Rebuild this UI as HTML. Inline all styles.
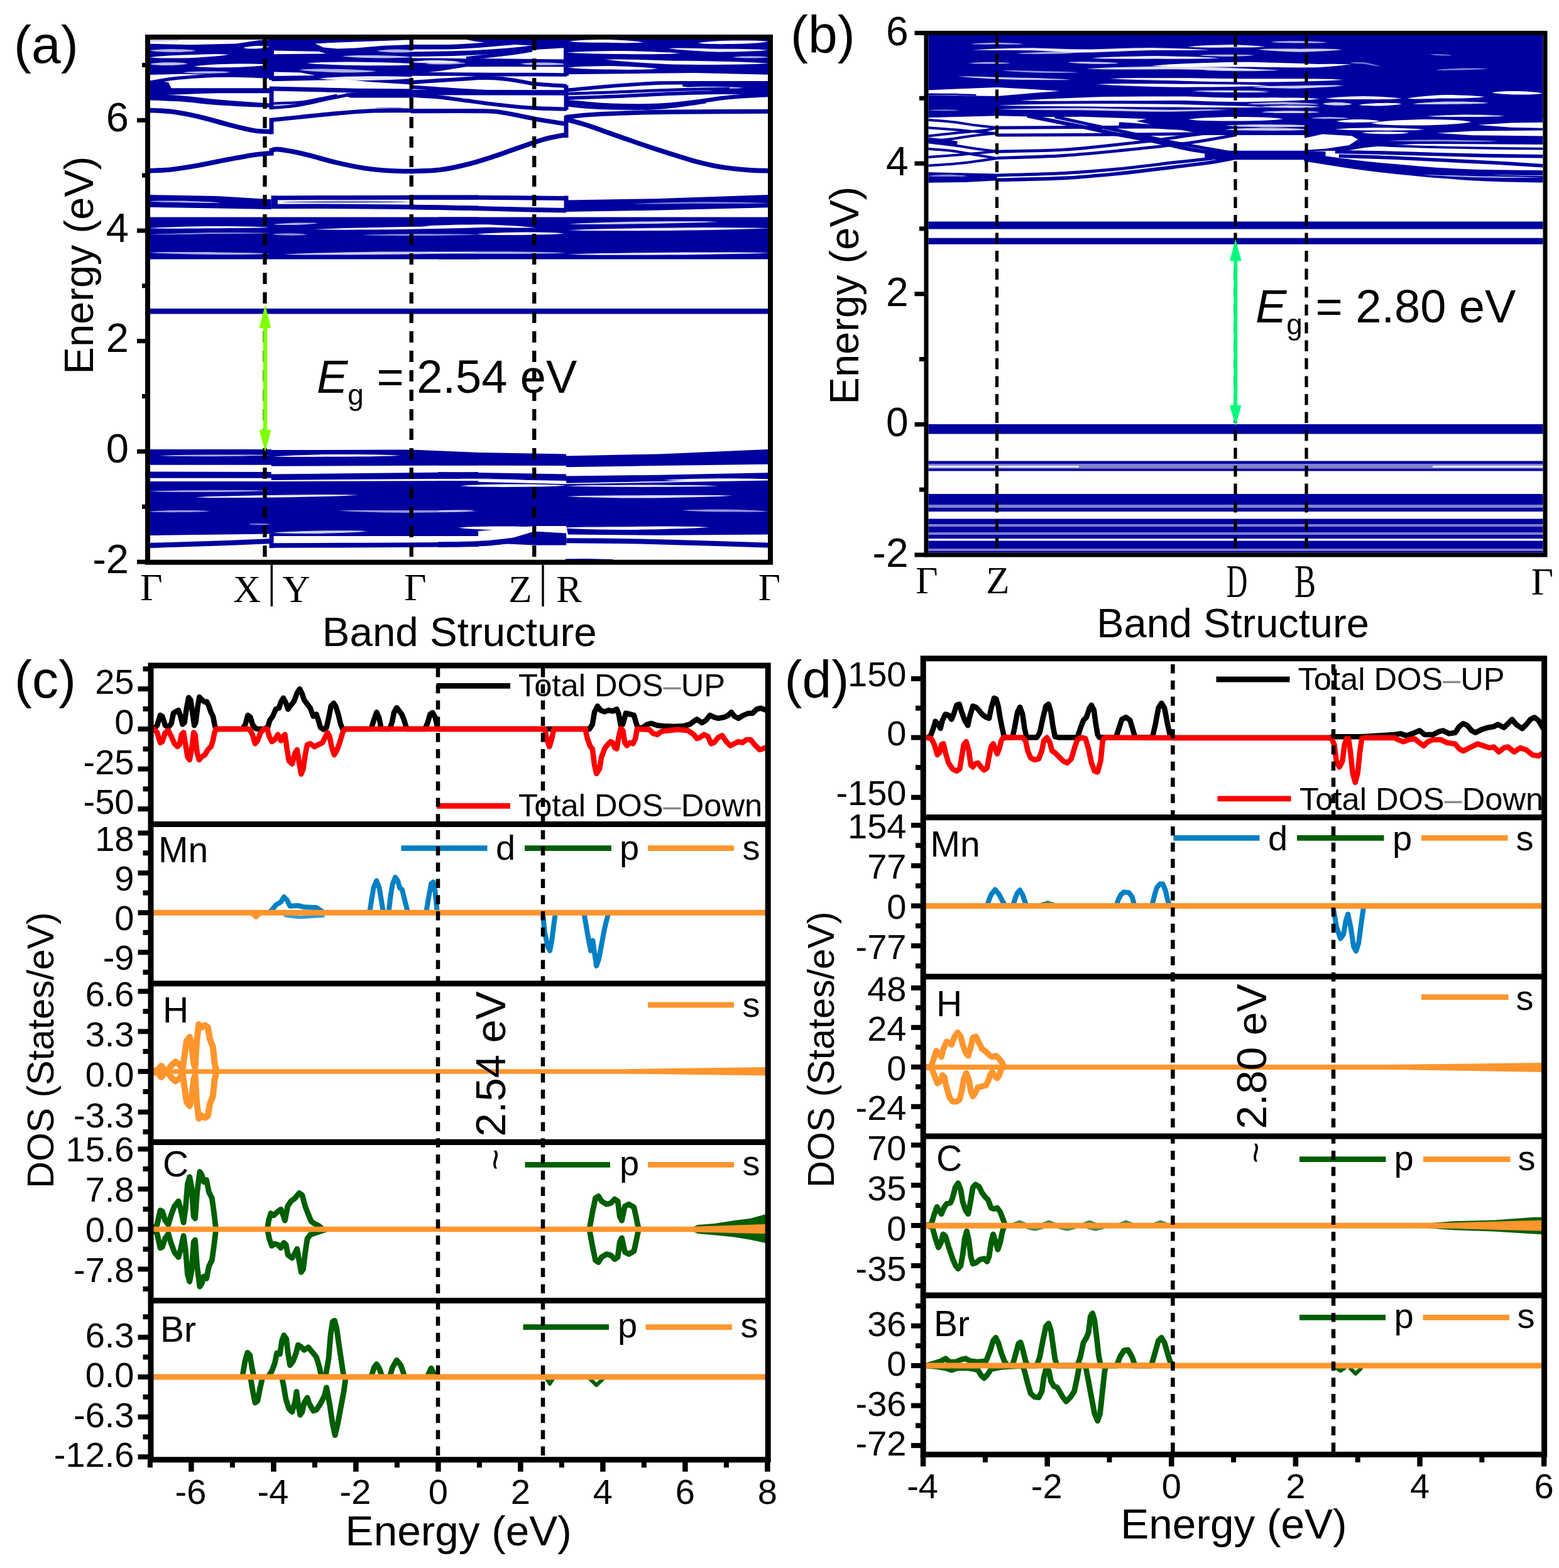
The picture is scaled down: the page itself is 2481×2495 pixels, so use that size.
<!DOCTYPE html>
<html lang="en"><head><meta charset="utf-8"><title>Band structure and DOS</title>
<style>html,body{margin:0;padding:0;background:#fff}svg{display:block;filter:blur(0.55px)}text{white-space:pre}</style>
</head><body>
<svg width="2481" height="2495" viewBox="0 0 2481 2495">
<rect x="0" y="0" width="2481" height="2495" fill="#fff"/>
<clipPath id="ca"><rect x="239" y="63" width="983" height="828"/></clipPath>
<g clip-path="url(#ca)">
<path d="M238 69.6 L302.9 71.3 L375.8 69.6 L412.2 64 L432.6 63 L432.6 123.5 L375.8 120.3 L324.7 118.4 L288.3 117.7 L238 119.1Z" fill="#00009f" />
<path d="M238 63 L238 65.9 L283.9 65.5 L283.9 63Z" fill="#c8c8ea" />
<path d="M238.0 80.5 L244.2 79.4 L250.3 78.9 L256.4 78.5 L262.6 78.3 L268.7 78.1 L274.8 78.1 L281.0 78.2 L287.1 78.3 L293.2 78.6 L299.4 79.0 L305.5 79.5 L311.6 80.7 L311.6 80.7 L305.5 81.7 L299.4 82.3 L293.2 82.6 L287.1 82.9 L281.0 83.0 L274.8 83.1 L268.7 83.0 L262.6 82.8 L256.4 82.6 L250.3 82.2 L244.2 81.6 L238.0 80.5Z" fill="#fff" opacity="0.69"/>
<path d="M238.0 91.4 L248.5 90.1 L259.0 89.2 L269.5 88.6 L280.0 88.0 L290.6 87.6 L301.1 87.3 L311.6 86.9 L322.1 86.5 L332.6 86.3 L343.1 86.1 L353.6 86.2 L364.1 86.8 L364.1 86.8 L353.6 88.4 L343.1 89.4 L332.6 90.3 L322.1 91.0 L311.6 91.7 L301.1 92.2 L290.6 92.4 L280.0 92.6 L269.5 92.6 L259.0 92.5 L248.5 92.3 L238.0 91.4Z" fill="#fff" opacity="0.9774999999999999"/>
<path d="M238.0 101.9 L243.1 100.8 L248.1 100.2 L253.1 99.8 L258.2 99.5 L263.2 99.3 L268.3 99.2 L273.3 99.2 L278.3 99.3 L283.4 99.5 L288.4 99.8 L293.5 100.3 L298.5 101.4 L298.5 101.4 L293.5 102.5 L288.4 103.1 L283.4 103.5 L278.3 103.8 L273.3 104.0 L268.3 104.1 L263.2 104.1 L258.2 104.0 L253.1 103.8 L248.1 103.5 L243.1 103.0 L238.0 101.9Z" fill="#fff" opacity="0.7474999999999999"/>
<path d="M308.7 105.7 L318.5 104.3 L328.4 103.5 L338.2 102.8 L348.1 102.3 L357.9 102.0 L367.7 101.7 L377.6 101.5 L387.4 101.5 L397.3 101.5 L407.1 101.7 L416.9 102.1 L426.8 103.1 L426.8 103.1 L416.9 104.5 L407.1 105.4 L397.3 106.0 L387.4 106.5 L377.6 106.9 L367.7 107.2 L357.9 107.3 L348.1 107.4 L338.2 107.3 L328.4 107.1 L318.5 106.7 L308.7 105.7Z" fill="#fff" opacity="1.0"/>
<path d="M291.2 115.5 L297.5 114.6 L303.9 114.1 L310.2 113.7 L316.5 113.5 L322.8 113.3 L329.1 113.2 L335.4 113.2 L341.7 113.2 L348.1 113.4 L354.4 113.6 L360.7 114.0 L367.0 114.8 L367.0 114.8 L360.7 115.7 L354.4 116.2 L348.1 116.5 L341.7 116.8 L335.4 117.0 L329.1 117.1 L322.8 117.1 L316.5 117.0 L310.2 116.9 L303.9 116.6 L297.5 116.3 L291.2 115.5Z" fill="#fff" opacity="0.69"/>
<path d="M387.4 76.1 L390.8 75.0 L394.2 74.4 L397.6 73.9 L401.0 73.5 L404.4 73.2 L407.8 73.0 L411.2 72.9 L414.6 72.9 L418.0 72.9 L421.4 73.1 L424.8 73.4 L428.2 74.2 L428.2 74.2 L424.8 75.4 L421.4 76.0 L418.0 76.5 L414.6 76.9 L411.2 77.2 L407.8 77.4 L404.4 77.5 L401.0 77.5 L397.6 77.4 L394.2 77.3 L390.8 77.0 L387.4 76.1Z" fill="#fff" opacity="1.0"/>
<path d="M238.0 131.1 C244.0 130.1 260.5 126.8 273.7 125.3 C287.0 123.7 301.7 122.5 317.5 121.6 C333.2 120.8 349.3 120.0 368.5 120.2 C387.7 120.3 421.9 122.0 432.6 122.3" fill="none" stroke="#00009f" stroke-width="5.2" />
<path d="M238 127.9 L267.9 130.8 L273.7 142.5 L238 142.5Z" fill="#00009f" />
<path d="M238.0 144.2 C253.7 144.2 299.6 144.2 332.0 144.2 C364.5 144.2 415.8 144.2 432.6 144.2" fill="none" stroke="#00009f" stroke-width="8.1" />
<path d="M238.0 149.7 C246.4 149.5 270.2 148.9 288.3 148.3 C306.4 147.7 336.9 146.5 346.6 146.1" fill="none" stroke="#00009f" stroke-width="3.8" />
<path d="M238.0 153.4 C246.4 153.8 272.6 154.4 288.3 155.6 C304.0 156.7 317.5 158.8 332.0 160.2 C346.6 161.6 359.0 162.7 375.8 164.0 C392.5 165.3 423.1 167.3 432.6 168.0" fill="none" stroke="#00009f" stroke-width="6.6" />
<path d="M238.0 157.0 C246.4 157.4 272.6 158.1 288.3 159.2 C304.0 160.3 317.5 162.4 332.0 163.6 C346.6 164.8 359.0 165.7 375.8 166.5 C392.5 167.4 423.1 168.3 432.6 168.7" fill="none" stroke="#00009f" stroke-width="4.8" />
<path d="M236.4 175.5 C242.5 175.9 259.5 175.9 272.9 177.6 C286.2 179.3 302.0 182.4 316.6 185.8 C331.2 189.1 348.2 194.3 360.3 197.4 C372.5 200.6 381.2 202.9 389.5 204.7 C397.7 206.5 402.6 207.7 409.9 208.5 C417.2 209.3 429.3 209.5 433.2 209.7" fill="none" stroke="#00009f" stroke-width="7.6" />
<path d="M236.4 271.7 C242.5 271.4 259.5 271.2 272.9 269.7 C286.2 268.2 302.0 265.6 316.6 263.0 C331.2 260.4 345.8 257.0 360.3 254.3 C374.9 251.5 391.9 248.2 404.0 246.4 C416.2 244.6 428.3 244.0 433.2 243.5" fill="none" stroke="#00009f" stroke-width="7.6" />
<line x1="432" y1="191.6" x2="432" y2="213.4" stroke="#00009f" stroke-width="7" />
<line x1="432" y1="235.9" x2="432" y2="247.5" stroke="#00009f" stroke-width="7" />
<line x1="432" y1="63" x2="432" y2="127.4" stroke="#00009f" stroke-width="8" />
<line x1="432" y1="142" x2="432" y2="174.1" stroke="#00009f" stroke-width="7" />
<path d="M432.4 63 L655.4 63 L655.4 134.4 L594.9 130.8 L551.2 126.7 L492.9 127.9 L432.4 129.3Z" fill="#00009f" />
<path d="M501.6 69.6 L536.6 67 L565.8 65.2 L609.5 64 L655.4 63.5 L655.4 71 L609.5 72.8 L565.8 76.4 L536.6 77.6 L514.7 75.4Z" fill="#fff" />
<path d="M501.6 63 L565.8 63 L638.6 63 L638.6 64 L565.8 66.4 L501.6 69Z" fill="#00009f" />
<path d="M436 80.5 L436 86.3 L519.1 85.3 L507.5 82Z" fill="#fff" />
<path d="M543.9 89.5 L553.2 88.7 L562.5 88.3 L571.8 88.1 L581.1 88.0 L590.4 87.9 L599.6 88.0 L608.9 88.2 L618.2 88.4 L627.5 88.7 L636.8 89.2 L646.1 89.8 L655.4 90.9 L655.4 90.9 L646.1 91.7 L636.8 92.1 L627.5 92.3 L618.2 92.4 L608.9 92.5 L599.6 92.4 L590.4 92.2 L581.1 92.0 L571.8 91.7 L562.5 91.2 L553.2 90.6 L543.9 89.5Z" fill="#fff" opacity="0.7474999999999999"/>
<path d="M599.3 80.9 L605.0 79.9 L610.7 79.4 L616.4 79.0 L622.1 78.8 L627.8 78.6 L633.5 78.6 L639.2 78.7 L645.0 78.9 L650.7 79.2 L656.4 79.6 L662.1 80.1 L667.8 81.2 L667.8 81.2 L662.1 82.3 L656.4 82.8 L650.7 83.2 L645.0 83.4 L639.2 83.5 L633.5 83.6 L627.8 83.5 L622.1 83.3 L616.4 83.0 L610.7 82.6 L605.0 82.1 L599.3 80.9Z" fill="#fff" opacity="0.69"/>
<path d="M488.5 100.5 L503.4 99.4 L518.4 99.0 L533.3 98.8 L548.3 98.6 L563.2 98.6 L578.1 98.7 L593.1 98.9 L608.0 99.3 L623.0 99.7 L637.9 100.3 L652.9 101.0 L667.8 102.4 L667.8 102.4 L652.9 103.4 L637.9 103.9 L623.0 104.2 L608.0 104.3 L593.1 104.3 L578.1 104.2 L563.2 104.0 L548.3 103.7 L533.3 103.2 L518.4 102.6 L503.4 101.9 L488.5 100.5Z" fill="#fff" opacity="0.9774999999999999"/>
<path d="M475.4 111.1 L485.7 110.1 L496.0 109.8 L506.4 109.6 L516.7 109.6 L527.0 109.7 L537.3 109.8 L547.7 110.1 L558.0 110.4 L568.3 110.9 L578.6 111.4 L589.0 112.2 L599.3 113.6 L599.3 113.6 L589.0 114.6 L578.6 115.1 L568.3 115.3 L558.0 115.4 L547.7 115.4 L537.3 115.3 L527.0 115.0 L516.7 114.6 L506.4 114.1 L496.0 113.4 L485.7 112.6 L475.4 111.1Z" fill="#fff" opacity="0.69"/>
<path d="M436 114.5 L436 120.9 L501.6 119.9 L478.3 115.5Z" fill="#fff" />
<path d="M507.5 125.0 L520.8 123.4 L534.2 122.7 L547.5 122.1 L560.9 121.7 L574.3 121.5 L587.6 121.3 L601.0 121.2 L614.3 121.2 L627.7 121.4 L641.1 121.7 L654.4 122.2 L667.8 123.5 L667.8 123.5 L654.4 125.2 L641.1 126.0 L627.7 126.7 L614.3 127.2 L601.0 127.6 L587.6 127.9 L574.3 127.9 L560.9 127.8 L547.5 127.5 L534.2 127.0 L520.8 126.4 L507.5 125.0Z" fill="#fff" opacity="0.9199999999999999"/>
<path d="M428.7 130.8 L428.7 138.4 L565.8 137.4 L536.6 133.7Z" fill="#fff" />
<path d="M428.7 141.0 C441.9 141.3 484.6 142.2 507.5 142.7 C530.3 143.3 541.1 143.8 565.8 144.2 C590.4 144.6 640.5 144.9 655.4 145.1" fill="none" stroke="#00009f" stroke-width="7.1" />
<path d="M551.2 148.3 L655.4 142.5 L655.4 155.6 L558.5 155.6 L543.9 151.9Z" fill="#00009f" />
<path d="M428.7 171.6 C434.6 171.2 453.0 170.3 463.7 169.0 C474.4 167.7 483.2 165.8 492.9 163.9 C502.6 161.9 512.3 159.4 522.0 157.3 C531.7 155.3 546.3 152.5 551.2 151.5" fill="none" stroke="#00009f" stroke-width="5.2" />
<path d="M433.1 164.6 C440.6 164.3 465.9 163.8 478.3 162.6 C490.7 161.4 497.7 159.2 507.5 157.3 C517.2 155.5 531.7 152.5 536.6 151.5" fill="none" stroke="#00009f" stroke-width="4.3" />
<path d="M594.9 171.6 L600.0 171.4 L605.0 171.4 L610.0 171.4 L615.1 171.4 L620.1 171.4 L625.2 171.5 L630.2 171.5 L635.2 171.6 L640.3 171.7 L645.3 171.9 L650.4 172.1 L655.4 172.3 L655.4 172.3 L650.4 172.5 L645.3 172.5 L640.3 172.6 L635.2 172.6 L630.2 172.5 L625.2 172.5 L620.1 172.4 L615.1 172.3 L610.0 172.2 L605.0 172.1 L600.0 171.9 L594.9 171.6Z" fill="#00009f" opacity="1"/>
<path d="M428.7 191.3 C437.0 190.4 460.3 188.0 478.3 186.2 C496.3 184.4 517.2 182.0 536.6 180.4 C556.0 178.7 575.1 177.0 594.9 176.3 C614.7 175.5 645.3 176.0 655.4 176.0" fill="none" stroke="#00009f" stroke-width="6.6" />
<path d="M432.6 238.8 C434.2 238.6 437.0 237.3 441.9 237.6 C446.9 237.9 454.1 239.0 462.3 240.6 C470.6 242.1 479.4 244.0 491.5 247.0 C503.6 250.0 520.6 255.2 535.2 258.6 C549.8 262.0 564.4 265.2 579.0 267.4 C593.5 269.6 609.8 270.9 622.7 271.7 C635.5 272.6 650.6 272.5 656.2 272.6" fill="none" stroke="#00009f" stroke-width="7.6" />
<path d="M742 63 L901.6 63 L901.6 72.2 L844.1 72.2 L785.8 69.6 L756.6 65.9Z" fill="#00009f" />
<path d="M653.8 74.7 C663.7 74.7 695.8 75.0 712.9 74.7 C730.0 74.3 742.0 73.5 756.6 72.5 C771.2 71.5 788.2 69.9 800.3 68.8 C812.5 67.8 824.6 66.4 829.5 65.9" fill="none" stroke="#00009f" stroke-width="7.6" />
<path d="M653.8 86.3 C666.1 86.1 705.5 85.6 727.5 84.9 C749.4 84.2 768.8 83.1 785.8 82.0 C802.8 80.9 817.3 79.5 829.5 78.3 C841.6 77.1 846.6 75.7 858.6 74.7 C870.7 73.7 894.5 72.6 901.6 72.2" fill="none" stroke="#00009f" stroke-width="7.6" />
<path d="M742.0 93.2 C751.7 92.0 782.8 88.6 800.3 86.3 C817.8 84.1 839.2 80.6 847.0 79.5" fill="none" stroke="#00009f" stroke-width="6.2" />
<path d="M653.8 92.5 L698.3 92.5 L742 93.2 L785.8 93.2 L849.9 94.1 L901.6 94.4 L901.6 106.3 L849.9 106.3 L785.8 106 L742 106.3 L698.3 113.3 L653.8 118Z" fill="#00009f" />
<path d="M653.8 98.7 L660.5 97.6 L667.1 97.1 L673.7 96.6 L680.3 96.3 L686.9 96.1 L693.6 96.0 L700.2 96.1 L706.8 96.3 L713.4 96.7 L720.0 97.1 L726.7 97.7 L733.3 98.7 L733.3 98.7 L726.7 99.6 L720.0 100.0 L713.4 100.2 L706.8 100.4 L700.2 100.4 L693.6 100.4 L686.9 100.4 L680.3 100.3 L673.7 100.2 L667.1 100.0 L660.5 99.6 L653.8 98.7Z" fill="#fff" opacity="0.9199999999999999"/>
<path d="M828.0 101.4 L834.2 100.4 L840.3 100.0 L846.4 99.7 L852.6 99.5 L858.7 99.4 L864.8 99.4 L871.0 99.5 L877.1 99.7 L883.2 100.0 L889.4 100.4 L895.5 100.9 L901.6 101.9 L901.6 101.9 L895.5 102.9 L889.4 103.3 L883.2 103.6 L877.1 103.8 L871.0 103.8 L864.8 103.8 L858.7 103.7 L852.6 103.6 L846.4 103.3 L840.3 102.9 L834.2 102.4 L828.0 101.4Z" fill="#fff" opacity="0.69"/>
<path d="M676.4 101.4 L681.9 100.5 L687.4 100.1 L692.8 99.8 L698.3 99.5 L703.8 99.4 L709.2 99.3 L714.7 99.2 L720.2 99.3 L725.6 99.4 L731.1 99.5 L736.6 99.8 L742.0 100.5 L742.0 100.5 L736.6 101.3 L731.1 101.7 L725.6 102.0 L720.2 102.3 L714.7 102.5 L709.2 102.6 L703.8 102.6 L698.3 102.6 L692.8 102.5 L687.4 102.3 L681.9 102.0 L676.4 101.4Z" fill="#fff" opacity="0.69"/>
<path d="M653.8 118.0 C666.1 118.0 705.5 117.9 727.5 118.0 C749.4 118.1 765.4 118.5 785.8 118.6 C806.2 118.6 830.6 118.5 849.9 118.6 C869.2 118.6 893.0 119.0 901.6 119.1" fill="none" stroke="#00009f" stroke-width="5.7" />
<path d="M653.8 131.1 C661.3 130.6 683.6 129.1 698.3 128.2 C713.0 127.2 729.9 126.0 742.0 125.3 C754.2 124.5 761.5 123.8 771.2 123.8 C780.9 123.8 790.6 124.3 800.3 125.3 C810.1 126.2 821.2 128.3 829.5 129.6 C837.7 131.0 837.9 132.1 849.9 133.3 C861.9 134.5 893.0 136.3 901.6 136.9" fill="none" stroke="#00009f" stroke-width="6.2" />
<path d="M653.8 138.4 C661.3 138.9 683.6 140.3 698.3 141.3 C713.0 142.3 727.5 143.4 742.0 144.2 C756.6 145.1 778.5 146.0 785.8 146.4" fill="none" stroke="#00009f" stroke-width="5.7" />
<path d="M653.8 147.1 L901.6 147.4" fill="none" stroke="#00009f" stroke-width="8.5" />
<path d="M653.8 151.5 C661.3 152.0 683.6 153.0 698.3 154.4 C713.0 155.9 725.0 158.1 742.0 160.2 C759.0 162.4 782.4 165.6 800.3 167.5 C818.3 169.5 833.0 170.9 849.9 171.9 C866.8 172.9 893.0 173.4 901.6 173.6" fill="none" stroke="#00009f" stroke-width="6.2" />
<path d="M653.8 176.7 C673.4 176.7 746.8 176.3 771.2 176.7 C795.6 177.1 790.6 177.9 800.3 179.2 C810.1 180.5 819.8 182.8 829.5 184.7 C839.2 186.6 848.9 188.8 858.6 190.6 C868.4 192.3 880.6 194.1 887.8 195.2 C895.0 196.3 899.3 196.8 901.6 197.1" fill="none" stroke="#00009f" stroke-width="7.1" />
<path d="M653.4 272.6 C661.1 272.2 684.9 272.1 700.0 270.3 C715.1 268.4 729.1 265.2 743.7 261.5 C758.3 257.9 775.3 252.3 787.5 248.4 C799.6 244.5 806.2 241.9 816.6 238.2 C827.0 234.6 840.4 229.7 850.1 226.6 C859.8 223.4 866.3 221.3 874.9 219.3 C883.5 217.2 897.2 215.1 901.7 214.3" fill="none" stroke="#00009f" stroke-width="7.6" />
<line x1="901" y1="63" x2="901" y2="120.6" stroke="#00009f" stroke-width="8" />
<line x1="901" y1="135.6" x2="901" y2="174.9" stroke="#00009f" stroke-width="7" />
<line x1="901" y1="184.3" x2="901" y2="219" stroke="#00009f" stroke-width="7" />
<path d="M899.7 62.5 L1222 62.5 L1222 118.7 L1104.9 115.9 L899.7 118.3Z" fill="#00009f" />
<path d="M905.3 65.9 L915.2 64.7 L925.1 64.0 L935.0 63.6 L945.0 63.2 L954.9 63.0 L964.8 62.8 L974.7 63.2 L984.6 63.7 L994.5 64.3 L1004.5 65.1 L1014.4 65.9 L1024.3 67.4 L1024.3 67.4 L1014.4 68.1 L1004.5 68.3 L994.5 68.4 L984.6 68.3 L974.7 68.1 L964.8 67.8 L954.9 67.8 L945.0 67.8 L935.0 67.6 L925.1 67.3 L915.2 66.9 L905.3 65.9Z" fill="#fff" opacity="0.9774999999999999"/>
<path d="M1110.5 68.5 L1119.9 67.1 L1129.2 66.3 L1138.6 65.6 L1148.0 65.1 L1157.4 64.8 L1166.7 64.5 L1176.1 64.4 L1185.5 64.4 L1194.8 64.5 L1204.2 64.8 L1213.6 65.2 L1222.9 66.2 L1222.9 66.2 L1213.6 67.6 L1204.2 68.4 L1194.8 69.0 L1185.5 69.4 L1176.1 69.8 L1166.7 70.0 L1157.4 70.1 L1148.0 70.2 L1138.6 70.1 L1129.2 69.9 L1119.9 69.5 L1110.5 68.5Z" fill="#fff" opacity="0.9774999999999999"/>
<path d="M902.5 83.5 L917.5 82.4 L932.5 81.9 L947.5 81.5 L962.5 81.2 L977.4 81.1 L992.4 81.0 L1007.4 81.3 L1022.4 81.7 L1037.4 82.2 L1052.4 82.9 L1067.4 83.6 L1082.4 85.0 L1082.4 85.0 L1067.4 85.8 L1052.4 86.1 L1037.4 86.2 L1022.4 86.3 L1007.4 86.2 L992.4 86.0 L977.4 85.9 L962.5 85.8 L947.5 85.5 L932.5 85.1 L917.5 84.6 L902.5 83.5Z" fill="#fff" opacity="0.9774999999999999"/>
<path d="M1063.7 77.1 L1076.9 76.6 L1090.2 76.6 L1103.5 76.7 L1116.7 77.0 L1130.0 77.4 L1143.3 77.8 L1156.6 77.8 L1169.8 77.8 L1183.1 78.0 L1196.4 78.3 L1209.7 78.7 L1222.9 79.7 L1222.9 79.7 L1209.7 80.9 L1196.4 81.6 L1183.1 82.0 L1169.8 82.4 L1156.6 82.6 L1143.3 82.8 L1130.0 82.2 L1116.7 81.5 L1103.5 80.7 L1090.2 79.8 L1076.9 78.8 L1063.7 77.1Z" fill="#fff" opacity="0.9199999999999999"/>
<path d="M962.5 94.7 L984.2 94.4 L1005.9 94.7 L1027.6 95.3 L1049.3 96.0 L1071.0 96.7 L1092.7 96.8 L1114.4 97.0 L1136.1 97.4 L1157.8 97.9 L1179.5 98.6 L1201.2 99.4 L1222.9 100.9 L1222.9 100.9 L1201.2 102.1 L1179.5 102.5 L1157.8 102.8 L1136.1 103.0 L1114.4 103.0 L1092.7 102.8 L1071.0 102.6 L1049.3 101.5 L1027.6 100.2 L1005.9 98.7 L984.2 97.1 L962.5 94.7Z" fill="#fff" opacity="0.9774999999999999"/>
<path d="M1166.7 91.0 L1171.4 90.2 L1176.1 89.9 L1180.8 89.6 L1185.5 89.5 L1190.1 89.4 L1194.8 89.3 L1199.5 89.4 L1204.2 89.5 L1208.9 89.6 L1213.6 89.9 L1218.3 90.2 L1222.9 91.0 L1222.9 91.0 L1218.3 91.7 L1213.6 92.1 L1208.9 92.3 L1204.2 92.5 L1199.5 92.6 L1194.8 92.6 L1190.1 92.6 L1185.5 92.5 L1180.8 92.3 L1176.1 92.1 L1171.4 91.7 L1166.7 91.0Z" fill="#fff" opacity="0.69"/>
<path d="M904.4 107.5 L916.2 106.3 L928.1 105.8 L940.0 105.4 L951.8 105.2 L963.7 105.1 L975.6 105.1 L987.4 105.4 L999.3 105.8 L1011.2 106.4 L1023.0 107.0 L1034.9 107.9 L1046.8 109.3 L1046.8 109.3 L1034.9 110.3 L1023.0 110.7 L1011.2 110.8 L999.3 110.9 L987.4 110.8 L975.6 110.6 L963.7 110.5 L951.8 110.3 L940.0 109.9 L928.1 109.4 L916.2 108.8 L904.4 107.5Z" fill="#fff" opacity="0.9774999999999999"/>
<path d="M903.4 143.5 C915.1 142.4 949.5 138.8 973.7 136.9 C997.9 135.0 1023.7 133.1 1048.7 132.2 C1073.6 131.4 1094.7 131.9 1123.6 131.8 C1152.5 131.8 1205.6 131.8 1222.0 131.8" fill="none" stroke="#00009f" stroke-width="5.7" />
<path d="M1086.1 130 L1222 130 L1222 153.4 L1161.1 148.7 L1086.1 137.5Z" fill="#00009f" />
<path d="M1067.4 140.3 L1077.1 139.4 L1086.8 138.9 L1096.4 138.4 L1106.1 138.1 L1115.8 137.8 L1125.5 137.7 L1135.2 137.8 L1144.9 137.9 L1154.5 138.2 L1164.2 138.5 L1173.9 138.9 L1183.6 139.7 L1183.6 139.7 L1173.9 140.4 L1164.2 140.7 L1154.5 140.9 L1144.9 141.0 L1135.2 141.0 L1125.5 141.0 L1115.8 141.1 L1106.1 141.1 L1096.4 141.1 L1086.8 141.0 L1077.1 140.8 L1067.4 140.3Z" fill="#fff" opacity="0.8049999999999999"/>
<path d="M1110.5 152.4 L1114.2 151.7 L1118.0 151.3 L1121.7 151.0 L1125.5 150.7 L1129.2 150.5 L1133.0 150.3 L1136.7 150.2 L1140.5 150.2 L1144.2 150.2 L1148.0 150.3 L1151.7 150.5 L1155.5 150.9 L1155.5 150.9 L1151.7 151.7 L1148.0 152.1 L1144.2 152.4 L1140.5 152.7 L1136.7 152.9 L1133.0 153.1 L1129.2 153.2 L1125.5 153.2 L1121.7 153.2 L1118.0 153.1 L1114.2 152.9 L1110.5 152.4Z" fill="#fff" opacity="0.8049999999999999"/>
<path d="M903.4 149.1 C915.1 148.7 946.4 147.8 973.7 146.8 C1001.0 145.8 1036.2 144.0 1067.4 143.1 C1098.6 142.1 1145.5 141.5 1161.1 141.2" fill="none" stroke="#00009f" stroke-width="4.8" />
<path d="M903.4 156.2 C918.3 155.6 965.1 154.0 992.4 152.8 C1019.8 151.6 1042.4 150.0 1067.4 149.1 C1092.4 148.1 1116.6 147.5 1142.4 147.2 C1168.1 146.9 1208.7 147.2 1222.0 147.2" fill="none" stroke="#00009f" stroke-width="5.7" />
<path d="M903.4 162.2 C915.1 163.1 949.5 166.9 973.7 167.8 C997.9 168.8 1026.8 168.8 1048.7 167.8 C1070.5 166.9 1086.1 164.4 1104.9 162.2 C1123.6 160.0 1141.6 156.6 1161.1 154.7 C1180.6 152.8 1211.9 151.6 1222.0 150.9" fill="none" stroke="#00009f" stroke-width="6.6" />
<path d="M903.4 167.4 C912.0 168.1 933.9 170.7 955.0 171.6 C976.0 172.4 1011.2 172.8 1029.9 172.5 C1048.7 172.2 1051.8 171.4 1067.4 169.7 C1083.0 168.0 1114.2 163.4 1123.6 162.2" fill="none" stroke="#00009f" stroke-width="4.8" />
<path d="M899.7 186.6 C905.8 185.9 920.8 183.9 936.2 182.8 C951.7 181.7 970.6 180.8 992.4 180.0 C1014.3 179.2 1029.1 178.6 1067.4 178.1 C1105.7 177.7 1196.2 177.3 1222.0 177.2" fill="none" stroke="#00009f" stroke-width="7.1" />
<path d="M901.7 190.1 C907.0 191.6 923.1 195.7 933.2 198.9 C943.3 202.0 952.6 205.7 962.3 209.1 C972.1 212.5 981.8 215.9 991.5 219.3 C1001.2 222.7 1010.9 226.2 1020.6 229.5 C1030.4 232.8 1040.1 235.9 1049.8 239.1 C1059.5 242.3 1069.2 245.4 1079.0 248.4 C1088.7 251.4 1098.4 254.6 1108.1 257.2 C1117.8 259.7 1127.5 262.0 1137.2 263.9 C1147.0 265.7 1156.7 267.1 1166.4 268.2 C1176.1 269.4 1186.1 270.3 1195.5 270.9 C1205.0 271.5 1218.6 271.6 1223.2 271.7" fill="none" stroke="#00009f" stroke-width="7.6" />
<path d="M236.4 310 L345.8 312.1 L431.7 317.3 L431.7 333.1 L345.8 331.6 L236.4 329.6Z" fill="#00009f" />
<path d="M236.4 320.2 L246.0 319.7 L255.6 319.5 L265.2 319.4 L274.8 319.4 L284.4 319.4 L294.0 319.6 L303.6 319.9 L313.2 320.3 L322.8 320.7 L332.4 321.1 L342.0 321.7 L351.6 322.6 L351.6 322.6 L342.0 322.9 L332.4 322.9 L322.8 322.9 L313.2 322.8 L303.6 322.6 L294.0 322.4 L284.4 322.1 L274.8 321.9 L265.2 321.7 L255.6 321.4 L246.0 320.9 L236.4 320.2Z" fill="#fff" opacity="0.69"/>
<path d="M431.7 315.0 C451.4 314.9 494.9 314.5 549.8 314.4 C604.7 314.3 725.9 314.2 761.1 314.1" fill="none" stroke="#00009f" stroke-width="7" />
<path d="M653.4 314.1 C675.7 314.2 746.2 314.2 787.5 314.4 C828.7 314.6 882.2 315.4 901.1 315.6" fill="none" stroke="#00009f" stroke-width="7" />
<path d="M431.7 328.4 C451.4 328.4 512.6 328.2 549.8 328.4 C587.0 328.6 619.5 329.1 654.7 329.6 C690.0 330.0 743.4 331.0 761.1 331.3" fill="none" stroke="#00009f" stroke-width="7.5" />
<path d="M653.4 329.6 C666.0 329.7 701.9 330.1 729.1 330.7 C756.4 331.3 787.9 332.4 816.6 333.1 C845.3 333.7 887.0 334.5 901.1 334.8" fill="none" stroke="#00009f" stroke-width="7.5" />
<path d="M431.7 311.5 L441.9 311.5 L441.9 331.9 L431.7 331.9Z" fill="#00009f" />
<path d="M444.9 321.7 L462.4 320.8 L479.8 320.3 L497.3 320.0 L514.8 319.7 L532.3 319.5 L549.8 319.4 L567.3 319.4 L584.8 319.6 L602.3 319.8 L619.8 320.1 L637.2 320.6 L654.7 321.4 L654.7 321.4 L637.2 322.1 L619.8 322.5 L602.3 322.7 L584.8 322.8 L567.3 322.9 L549.8 322.9 L532.3 322.9 L514.8 322.9 L497.3 322.8 L479.8 322.6 L462.4 322.4 L444.9 321.7Z" fill="#00009f" opacity="0.55"/>
<line x1="901" y1="311.5" x2="901" y2="337.1" stroke="#00009f" stroke-width="7" />
<path d="M901.1 318.5 L1049.8 316.1 L1223.2 310 L1223.2 330.1 L1049.8 334.5 L901.1 337.1Z" fill="#00009f" />
<path d="M1006.1 324.3 L1024.2 323.4 L1042.3 322.8 L1060.4 322.3 L1078.5 321.8 L1096.6 321.4 L1114.7 321.2 L1132.8 321.3 L1150.9 321.5 L1169.0 321.8 L1187.0 322.1 L1205.1 322.4 L1223.2 323.1 L1223.2 323.1 L1205.1 323.7 L1187.0 323.9 L1169.0 324.0 L1150.9 324.0 L1132.8 324.0 L1114.7 324.0 L1096.6 324.1 L1078.5 324.3 L1060.4 324.5 L1042.3 324.6 L1024.2 324.6 L1006.1 324.3Z" fill="#fff" opacity="0.5175"/>
<path d="M236.4 345.6 L761.1 345.6 L761.1 412.6 L236.4 412.6Z" fill="#00009f" />
<path d="M697.1 345.6 L1223.2 345.6 L1223.2 412.6 L697.1 412.6Z" fill="#00009f" />
<path d="M236.4 363.1 L252.5 362.1 L268.5 361.5 L284.5 361.0 L300.6 360.6 L316.6 360.2 L332.6 360.0 L348.7 360.0 L364.7 360.1 L380.7 360.3 L396.8 360.5 L412.8 360.9 L428.8 361.6 L428.8 361.6 L412.8 362.4 L396.8 362.7 L380.7 363.0 L364.7 363.1 L348.7 363.2 L332.6 363.3 L316.6 363.5 L300.6 363.6 L284.5 363.7 L268.5 363.7 L252.5 363.6 L236.4 363.1Z" fill="#fff" opacity="0.9774999999999999"/>
<path d="M236.4 373.3 L252.6 372.4 L268.7 371.9 L284.9 371.4 L301.1 370.9 L317.2 370.5 L333.4 370.1 L349.5 369.9 L365.7 369.9 L381.8 370.1 L398.0 370.2 L414.1 370.5 L430.3 370.9 L430.3 370.9 L414.1 371.4 L398.0 371.7 L381.8 371.8 L365.7 372.0 L349.5 372.0 L333.4 372.3 L317.2 372.6 L301.1 372.9 L284.9 373.1 L268.7 373.3 L252.6 373.4 L236.4 373.3Z" fill="#fff" opacity="0.575"/>
<path d="M236.4 401.8 L252.6 401.2 L268.7 401.0 L284.9 400.9 L301.1 400.9 L317.2 401.0 L333.4 401.1 L349.5 401.4 L365.7 401.7 L381.8 402.0 L398.0 402.3 L414.1 402.7 L430.3 403.6 L430.3 403.6 L414.1 404.5 L398.0 404.9 L381.8 405.2 L365.7 405.2 L349.5 405.2 L333.4 405.0 L317.2 404.8 L301.1 404.4 L284.9 404.0 L268.7 403.5 L252.6 402.9 L236.4 401.8Z" fill="#fff" opacity="0.69"/>
<path d="M434.7 357.2 L440.6 356.3 L446.6 355.8 L452.5 355.4 L458.5 355.1 L464.4 354.8 L470.4 354.6 L476.3 354.4 L482.3 354.4 L488.2 354.4 L494.2 354.5 L500.1 354.6 L506.1 355.2 L506.1 355.2 L500.1 356.1 L494.2 356.6 L488.2 357.1 L482.3 357.4 L476.3 357.7 L470.4 357.9 L464.4 358.0 L458.5 358.1 L452.5 358.1 L446.6 358.0 L440.6 357.8 L434.7 357.2Z" fill="#fff" opacity="0.69"/>
<path d="M433.2 372.7 L437.8 372.0 L442.4 371.7 L447.0 371.5 L451.7 371.4 L456.3 371.3 L460.9 371.3 L465.5 371.4 L470.1 371.6 L474.7 371.8 L479.4 372.1 L484.0 372.5 L488.6 373.3 L488.6 373.3 L484.0 374.0 L479.4 374.3 L474.7 374.5 L470.1 374.6 L465.5 374.7 L460.9 374.6 L456.3 374.6 L451.7 374.4 L447.0 374.2 L442.4 373.9 L437.8 373.5 L433.2 372.7Z" fill="#fff" opacity="0.575"/>
<path d="M500.2 365.1 L523.8 363.9 L547.4 363.1 L570.9 362.5 L594.5 361.9 L618.1 361.5 L641.6 361.1 L665.2 360.8 L688.7 360.6 L712.3 360.5 L735.9 360.4 L759.4 360.5 L783.0 361.0 L783.0 361.0 L759.4 362.2 L735.9 363.0 L712.3 363.6 L688.7 364.1 L665.2 364.6 L641.6 364.9 L618.1 365.2 L594.5 365.5 L570.9 365.6 L547.4 365.7 L523.8 365.6 L500.2 365.1Z" fill="#fff" opacity="0.9774999999999999"/>
<path d="M576.0 373.9 L591.5 373.2 L606.9 372.9 L622.3 372.6 L637.7 372.4 L653.2 372.3 L668.6 372.2 L684.0 372.2 L699.4 372.2 L714.9 372.3 L730.3 372.5 L745.7 372.7 L761.1 373.3 L761.1 373.3 L745.7 373.9 L730.3 374.3 L714.9 374.5 L699.4 374.7 L684.0 374.9 L668.6 374.9 L653.2 375.0 L637.7 374.9 L622.3 374.8 L606.9 374.7 L591.5 374.4 L576.0 373.9Z" fill="#fff" opacity="0.575"/>
<path d="M450.7 404.8 L476.6 403.4 L502.4 402.6 L528.3 401.9 L554.2 401.3 L580.0 400.9 L605.9 400.6 L631.8 400.5 L657.7 400.5 L683.5 400.6 L709.4 400.7 L735.3 401.0 L761.1 401.8 L761.1 401.8 L735.3 403.0 L709.4 403.6 L683.5 404.1 L657.7 404.5 L631.8 404.8 L605.9 405.0 L580.0 405.2 L554.2 405.4 L528.3 405.5 L502.4 405.5 L476.6 405.4 L450.7 404.8Z" fill="#fff" opacity="0.8049999999999999"/>
<path d="M670.9 360.2 L685.9 359.1 L701.0 358.5 L716.0 358.0 L731.1 357.6 L746.2 357.4 L761.2 357.2 L776.3 357.3 L791.3 358.0 L806.4 358.7 L821.5 359.6 L836.5 360.7 L851.6 362.2 L851.6 362.2 L836.5 362.6 L821.5 362.5 L806.4 362.3 L791.3 362.0 L776.3 361.6 L761.2 361.6 L746.2 361.7 L731.1 361.7 L716.0 361.6 L701.0 361.4 L685.9 361.0 L670.9 360.2Z" fill="#fff" opacity="1.0"/>
<path d="M758.3 372.7 L770.0 371.6 L781.6 370.9 L793.3 370.4 L804.9 370.1 L816.6 369.8 L828.3 369.6 L839.9 369.5 L851.6 369.5 L863.2 369.7 L874.9 370.1 L886.6 370.6 L898.2 371.5 L898.2 371.5 L886.6 372.5 L874.9 373.0 L863.2 373.3 L851.6 373.5 L839.9 373.8 L828.3 374.0 L816.6 374.1 L804.9 374.1 L793.3 374.0 L781.6 373.8 L770.0 373.5 L758.3 372.7Z" fill="#fff" opacity="1.0"/>
<path d="M670.9 401.8 L690.0 401.0 L709.2 400.7 L728.4 400.4 L747.6 400.3 L766.8 400.2 L786.0 400.2 L805.2 400.3 L824.4 400.5 L843.6 400.7 L862.8 401.1 L881.9 401.5 L901.1 402.4 L901.1 402.4 L881.9 403.2 L862.8 403.6 L843.6 403.8 L824.4 404.0 L805.2 404.1 L786.0 404.1 L766.8 404.0 L747.6 403.8 L728.4 403.6 L709.2 403.2 L690.0 402.8 L670.9 401.8Z" fill="#fff" opacity="0.69"/>
<path d="M904.0 356.4 L924.0 355.2 L943.9 354.4 L963.8 353.8 L983.7 353.2 L1003.6 352.7 L1023.6 352.4 L1043.5 352.2 L1063.4 352.1 L1083.3 352.0 L1103.2 352.1 L1123.2 352.3 L1143.1 352.9 L1143.1 352.9 L1123.2 354.0 L1103.2 354.6 L1083.3 355.1 L1063.4 355.6 L1043.5 355.9 L1023.6 356.2 L1003.6 356.5 L983.7 356.7 L963.8 356.9 L943.9 356.9 L924.0 356.9 L904.0 356.4Z" fill="#fff" opacity="0.8049999999999999"/>
<path d="M904.0 366.3 L930.6 365.0 L957.2 364.3 L983.8 363.7 L1010.4 363.2 L1037.0 362.8 L1063.6 362.5 L1090.2 362.3 L1116.8 362.1 L1143.4 362.1 L1170.0 362.2 L1196.6 362.4 L1223.2 363.1 L1223.2 363.1 L1196.6 364.3 L1170.0 365.1 L1143.4 365.7 L1116.8 366.2 L1090.2 366.6 L1063.6 366.9 L1037.0 367.1 L1010.4 367.2 L983.8 367.3 L957.2 367.2 L930.6 367.0 L904.0 366.3Z" fill="#fff" opacity="0.9199999999999999"/>
<path d="M904.0 404.8 L930.6 403.7 L957.2 403.1 L983.8 402.7 L1010.4 402.3 L1037.0 402.0 L1063.6 401.8 L1090.2 401.6 L1116.8 401.5 L1143.4 401.5 L1170.0 401.6 L1196.6 401.8 L1223.2 402.4 L1223.2 402.4 L1196.6 403.5 L1170.0 404.1 L1143.4 404.6 L1116.8 405.1 L1090.2 405.4 L1063.6 405.6 L1037.0 405.8 L1010.4 405.8 L983.8 405.8 L957.2 405.7 L930.6 405.4 L904.0 404.8Z" fill="#fff" opacity="0.9199999999999999"/>
<line x1="239" y1="495.2" x2="1222" y2="495.2" stroke="#00009f" stroke-width="8.5" />
<path d="M236.4 714.9 L431.7 714.9 L431.7 716.1 L654.7 715.5 L761.1 720.1 L761.1 740.6 L431.7 741.7 L431.7 739.7 L236.4 739.7Z" fill="#00009f" />
<path d="M697.1 719 L901.1 722.5 L901.1 725.4 L1049.8 722.5 L1223.2 714.9 L1223.2 738.8 L1049.8 741.1 L901.1 743.2 L901.1 741.1 L697.1 740.6Z" fill="#00009f" />
<path d="M252.5 725.1 L267.3 724.4 L282.1 724.1 L296.9 723.8 L311.7 723.7 L326.6 723.5 L341.4 723.4 L356.2 723.4 L371.0 723.4 L385.8 723.4 L400.6 723.5 L415.5 723.7 L430.3 724.2 L430.3 724.2 L415.5 724.9 L400.6 725.3 L385.8 725.7 L371.0 725.9 L356.2 726.1 L341.4 726.2 L326.6 726.2 L311.7 726.2 L296.9 726.1 L282.1 725.9 L267.3 725.7 L252.5 725.1Z" fill="#fff" opacity="0.69"/>
<path d="M434.7 726.6 L451.5 725.4 L468.4 724.6 L485.3 724.0 L502.2 723.4 L519.1 723.0 L536.0 722.9 L552.8 722.9 L569.7 723.0 L586.6 723.2 L603.5 723.5 L620.4 724.0 L637.2 724.8 L637.2 724.8 L620.4 725.7 L603.5 726.1 L586.6 726.4 L569.7 726.6 L552.8 726.7 L536.0 726.7 L519.1 726.7 L502.2 727.0 L485.3 727.1 L468.4 727.1 L451.5 727.1 L434.7 726.6Z" fill="#fff" opacity="0.9199999999999999"/>
<path d="M236.4 750.5 L431.7 751 L431.7 754.5 L761.1 751 L761.1 761.5 L431.7 763.9 L431.7 760.7 L236.4 760.7Z" fill="#00009f" />
<path d="M697.1 751 L901.1 754.5 L901.1 757.5 L1049.8 755.7 L1223.2 752.2 L1223.2 762.1 L1049.8 765.9 L901.1 768.8 L901.1 765 L697.1 761.5Z" fill="#00009f" />
<path d="M236.4 765.9 L431.7 765.9 L761.1 765 L761.1 852.9 L433.2 852.9 L431.7 849.4 L236.4 852Z" fill="#00009f" />
<path d="M697.1 765 L901.1 770.3 L1223.2 764.5 L1223.2 850.5 L1049.8 851.7 L904 850.5 L901.1 837.1 L850.1 837.1 L700 850.5 L697.1 850.5Z" fill="#00009f" />
<path d="M691.3 763.3 L703.4 762.6 L715.5 762.2 L727.7 761.9 L739.8 761.6 L752.0 761.4 L764.1 761.4 L776.3 761.6 L788.4 761.9 L800.6 762.2 L812.7 762.6 L824.9 763.1 L837.0 763.9 L837.0 763.9 L824.9 764.3 L812.7 764.4 L800.6 764.4 L788.4 764.4 L776.3 764.3 L764.1 764.2 L752.0 764.1 L739.8 764.1 L727.7 764.1 L715.5 764.0 L703.4 763.8 L691.3 763.3Z" fill="#fff" opacity="0.69"/>
<path d="M732.1 773.2 L746.2 772.1 L760.2 771.6 L774.3 771.1 L788.4 770.8 L802.5 770.6 L816.6 770.4 L830.7 770.5 L844.8 770.6 L858.9 770.8 L873.0 771.2 L887.0 771.6 L901.1 772.6 L901.1 772.6 L887.0 773.6 L873.0 774.1 L858.9 774.4 L844.8 774.6 L830.7 774.8 L816.6 774.8 L802.5 774.9 L788.4 774.8 L774.3 774.7 L760.2 774.5 L746.2 774.1 L732.1 773.2Z" fill="#fff" opacity="1.0"/>
<path d="M901.1 773.2 L921.3 772.5 L941.5 772.1 L961.6 771.9 L981.8 771.7 L1001.9 771.6 L1022.1 771.6 L1042.3 771.6 L1062.4 771.7 L1082.6 771.9 L1102.8 772.1 L1122.9 772.5 L1143.1 773.2 L1143.1 773.2 L1122.9 773.9 L1102.8 774.3 L1082.6 774.5 L1062.4 774.7 L1042.3 774.8 L1022.1 774.9 L1001.9 774.8 L981.8 774.7 L961.6 774.5 L941.5 774.3 L921.3 773.9 L901.1 773.2Z" fill="#fff" opacity="0.9199999999999999"/>
<path d="M1055.6 763.9 L1069.6 762.9 L1083.6 762.4 L1097.5 762.0 L1111.5 761.7 L1125.5 761.5 L1139.4 761.3 L1153.4 761.3 L1167.4 761.3 L1181.3 761.4 L1195.3 761.6 L1209.3 761.9 L1223.2 762.7 L1223.2 762.7 L1209.3 763.7 L1195.3 764.2 L1181.3 764.6 L1167.4 764.9 L1153.4 765.1 L1139.4 765.2 L1125.5 765.3 L1111.5 765.2 L1097.5 765.1 L1083.6 764.9 L1069.6 764.6 L1055.6 763.9Z" fill="#fff" opacity="0.9199999999999999"/>
<path d="M236.4 781.9 L252.6 781.1 L268.7 780.7 L284.9 780.3 L301.1 780.1 L317.2 779.9 L333.4 779.8 L349.5 779.7 L365.7 779.7 L381.8 779.8 L398.0 779.9 L414.1 780.2 L430.3 780.8 L430.3 780.8 L414.1 781.6 L398.0 782.1 L381.8 782.5 L365.7 782.7 L349.5 783.0 L333.4 783.1 L317.2 783.1 L301.1 783.1 L284.9 783.0 L268.7 782.9 L252.6 782.6 L236.4 781.9Z" fill="#fff" opacity="0.6325"/>
<path d="M310.8 791.3 L332.4 790.1 L354.0 789.5 L375.6 788.9 L397.2 788.4 L418.9 788.0 L440.5 787.7 L462.1 787.4 L483.7 787.2 L505.3 787.1 L527.0 787.1 L548.6 787.2 L570.2 787.8 L570.2 787.8 L548.6 788.9 L527.0 789.7 L505.3 790.2 L483.7 790.8 L462.1 791.2 L440.5 791.5 L418.9 791.8 L397.2 792.0 L375.6 792.0 L354.0 792.0 L332.4 791.9 L310.8 791.3Z" fill="#fff" opacity="0.9199999999999999"/>
<path d="M236.4 814.0 L244.6 813.2 L252.7 812.7 L260.9 812.4 L269.0 812.1 L277.1 811.9 L285.3 811.8 L293.4 811.8 L301.5 811.9 L309.7 812.1 L317.8 812.3 L326.0 812.7 L334.1 813.4 L334.1 813.4 L326.0 814.2 L317.8 814.5 L309.7 814.8 L301.5 814.9 L293.4 815.0 L285.3 815.1 L277.1 815.2 L269.0 815.2 L260.9 815.1 L252.7 814.9 L244.6 814.7 L236.4 814.0Z" fill="#fff" opacity="0.575"/>
<path d="M538.1 812.6 L556.7 812.0 L575.3 811.8 L593.9 811.8 L612.5 811.9 L631.1 812.0 L649.6 812.0 L668.2 812.0 L686.8 812.0 L705.4 812.1 L724.0 812.3 L742.6 812.7 L761.1 813.4 L761.1 813.4 L742.6 814.4 L724.0 814.9 L705.4 815.3 L686.8 815.5 L668.2 815.7 L649.6 815.9 L631.1 815.8 L612.5 815.4 L593.9 814.9 L575.3 814.4 L556.7 813.7 L538.1 812.6Z" fill="#fff" opacity="0.575"/>
<path d="M395.3 833.9 L398.2 833.3 L401.1 833.1 L404.0 832.9 L407.0 832.8 L409.9 832.7 L412.8 832.7 L415.7 832.8 L418.6 832.9 L421.5 833.0 L424.5 833.3 L427.4 833.6 L430.3 834.2 L430.3 834.2 L427.4 834.8 L424.5 835.1 L421.5 835.3 L418.6 835.4 L415.7 835.4 L412.8 835.4 L409.9 835.4 L407.0 835.3 L404.0 835.1 L401.1 834.9 L398.2 834.6 L395.3 833.9Z" fill="#fff" opacity="0.45999999999999996"/>
<path d="M434.7 847.6 L447.2 846.5 L459.7 845.9 L472.2 845.5 L484.7 845.1 L497.2 844.8 L509.7 844.5 L522.2 844.3 L534.7 844.2 L547.2 844.2 L559.8 844.3 L572.3 844.6 L584.8 845.3 L584.8 845.3 L572.3 846.5 L559.8 847.2 L547.2 847.8 L534.7 848.3 L522.2 848.6 L509.7 848.9 L497.2 849.1 L484.7 849.1 L472.2 849.0 L459.7 848.8 L447.2 848.5 L434.7 847.6Z" fill="#fff" opacity="0.8049999999999999"/>
<path d="M901.1 789.9 L923.2 789.0 L945.3 788.7 L967.5 788.4 L989.6 788.3 L1011.7 788.3 L1033.8 788.1 L1055.9 787.9 L1078.0 787.8 L1100.1 787.8 L1122.2 787.8 L1144.3 788.0 L1166.4 788.7 L1166.4 788.7 L1144.3 790.0 L1122.2 790.7 L1100.1 791.3 L1078.0 791.8 L1055.9 792.2 L1033.8 792.5 L1011.7 792.6 L989.6 792.4 L967.5 792.0 L945.3 791.6 L923.2 791.0 L901.1 789.9Z" fill="#fff" opacity="0.8624999999999999"/>
<path d="M694.2 813.2 L699.3 812.5 L704.4 812.1 L709.5 811.8 L714.6 811.6 L719.7 811.4 L724.8 811.3 L729.9 811.2 L735.0 811.2 L740.1 811.2 L745.2 811.4 L750.3 811.6 L755.4 812.1 L755.4 812.1 L750.3 812.8 L745.2 813.2 L740.1 813.5 L735.0 813.7 L729.9 813.9 L724.8 814.0 L719.7 814.1 L714.6 814.1 L709.5 814.1 L704.4 813.9 L699.3 813.7 L694.2 813.2Z" fill="#fff" opacity="0.575"/>
<path d="M1084.8 812.1 L1096.3 811.3 L1107.9 811.0 L1119.4 810.7 L1130.9 810.6 L1142.5 810.6 L1154.0 810.6 L1165.5 810.8 L1177.1 811.1 L1188.6 811.5 L1200.2 812.1 L1211.7 812.7 L1223.2 813.8 L1223.2 813.8 L1211.7 814.4 L1200.2 814.6 L1188.6 814.7 L1177.1 814.6 L1165.5 814.5 L1154.0 814.5 L1142.5 814.4 L1130.9 814.2 L1119.4 813.9 L1107.9 813.5 L1096.3 813.0 L1084.8 812.1Z" fill="#fff" opacity="0.575"/>
<path d="M729.1 839.8 L743.7 838.6 L758.3 838.1 L772.9 837.7 L787.4 837.6 L802.0 837.5 L816.6 837.6 L831.2 837.9 L845.8 838.2 L860.3 838.8 L874.9 839.4 L889.5 840.3 L904.0 841.8 L904.0 841.8 L889.5 842.9 L874.9 843.4 L860.3 843.7 L845.8 843.8 L831.2 843.8 L816.6 843.7 L802.0 843.4 L787.4 843.1 L772.9 842.7 L758.3 842.0 L743.7 841.2 L729.1 839.8Z" fill="#fff" opacity="1.0"/>
<path d="M892.4 840.0 L912.1 839.1 L931.7 838.6 L951.4 838.4 L971.1 838.2 L990.8 838.2 L1010.4 837.9 L1030.1 837.7 L1049.8 837.6 L1069.5 837.6 L1089.2 837.8 L1108.8 838.0 L1128.5 838.9 L1128.5 838.9 L1108.8 840.2 L1089.2 841.0 L1069.5 841.6 L1049.8 842.2 L1030.1 842.6 L1010.4 842.9 L990.8 843.1 L971.1 842.8 L951.4 842.4 L931.7 841.9 L912.1 841.3 L892.4 840.0Z" fill="#fff" opacity="0.9774999999999999"/>
<path d="M236.4 868.0 C254.7 867.5 313.2 865.7 345.8 864.5 C378.3 863.4 417.4 861.6 431.7 861.0" fill="none" stroke="#00009f" stroke-width="8.1" />
<path d="M431.7 868.0 C456.3 867.9 524.1 867.7 579.0 867.5 C633.8 867.2 730.8 866.5 761.1 866.3" fill="none" stroke="#00009f" stroke-width="7.6" />
<path d="M697.1 866.6 C709.7 866.2 747.4 866.2 772.9 864.5 C798.4 862.8 828.7 857.7 850.1 856.4 C871.5 855.0 892.6 856.4 901.1 856.4" fill="none" stroke="#00009f" stroke-width="8.5" />
<path d="M850.1 845.6 L901.1 848.5 L901.1 867.5 L850.1 867.5 L787.5 864.5Z" fill="#00009f" />
<path d="M901.1 860.2 C916.2 860.3 961.9 860.6 991.5 861.0 C1021.1 861.5 1040.3 862.0 1079.0 863.1 C1117.6 864.1 1199.2 866.7 1223.2 867.5" fill="none" stroke="#00009f" stroke-width="8.1" />
<path d="M904.0 853.5 L923.5 852.6 L942.9 852.3 L962.3 852.1 L981.8 852.0 L1001.2 852.0 L1020.6 852.3 L1040.1 852.7 L1059.5 853.1 L1079.0 853.7 L1098.4 854.3 L1117.8 855.1 L1137.2 856.4 L1137.2 856.4 L1117.8 857.0 L1098.4 857.2 L1079.0 857.2 L1059.5 857.1 L1040.1 857.0 L1020.6 856.7 L1001.2 856.4 L981.8 856.0 L962.3 855.6 L942.9 855.2 L923.5 854.6 L904.0 853.5Z" fill="#fff" opacity="0.8049999999999999"/>
<line x1="432" y1="849.4" x2="432" y2="872.1" stroke="#00009f" stroke-width="7" />
<path d="M899.7 891.4 C905.3 891.3 920.6 890.7 933.2 890.8 C945.8 890.9 968.4 891.7 975.5 891.9" fill="none" stroke="#00009f" stroke-width="3.8" />
</g>
<line x1="421.5" y1="62" x2="421.5" y2="891" stroke="#000" stroke-width="6.3" stroke-dasharray="18 13"/>
<line x1="654.7" y1="62" x2="654.7" y2="891" stroke="#000" stroke-width="6.3" stroke-dasharray="18 13"/>
<line x1="850.2" y1="62" x2="850.2" y2="891" stroke="#000" stroke-width="6.3" stroke-dasharray="18 13"/>
<line x1="422" y1="515" x2="422" y2="690" stroke="#7fff00" stroke-width="6.5" />
<path d="M422 485 L412.5 522 L431.5 522Z" fill="#7fff00" />
<path d="M422 719 L412.5 684 L431.5 684Z" fill="#7fff00" />
<rect x="235" y="59" width="991" height="835.7" fill="none" stroke="#000" stroke-width="8"/>
<line x1="218" y1="894.1" x2="235" y2="894.1" stroke="#000" stroke-width="7" />
<text x="205" y="911.6" font-family='"Liberation Sans", sans-serif' font-size="65" text-anchor="end" fill="#000" >-2</text>
<line x1="218" y1="718.4" x2="235" y2="718.4" stroke="#000" stroke-width="7" />
<text x="205" y="735.9" font-family='"Liberation Sans", sans-serif' font-size="65" text-anchor="end" fill="#000" >0</text>
<line x1="218" y1="542.7" x2="235" y2="542.7" stroke="#000" stroke-width="7" />
<text x="205" y="560.2" font-family='"Liberation Sans", sans-serif' font-size="65" text-anchor="end" fill="#000" >2</text>
<line x1="218" y1="367" x2="235" y2="367" stroke="#000" stroke-width="7" />
<text x="205" y="384.5" font-family='"Liberation Sans", sans-serif' font-size="65" text-anchor="end" fill="#000" >4</text>
<line x1="218" y1="191.3" x2="235" y2="191.3" stroke="#000" stroke-width="7" />
<text x="205" y="208.8" font-family='"Liberation Sans", sans-serif' font-size="65" text-anchor="end" fill="#000" >6</text>
<line x1="226" y1="806.2" x2="235" y2="806.2" stroke="#000" stroke-width="7" />
<line x1="226" y1="630.5" x2="235" y2="630.5" stroke="#000" stroke-width="7" />
<line x1="226" y1="454.8" x2="235" y2="454.8" stroke="#000" stroke-width="7" />
<line x1="226" y1="279.1" x2="235" y2="279.1" stroke="#000" stroke-width="7" />
<line x1="226" y1="103.5" x2="235" y2="103.5" stroke="#000" stroke-width="7" />
<text transform="translate(147.5 422) rotate(-90)" font-family='"Liberation Sans", sans-serif' font-size="65" text-anchor="middle" fill="#000" >Energy (eV)</text>
<text x="22" y="99.5" font-family='"Liberation Sans", sans-serif' font-size="84" text-anchor="start" fill="#000" >(a)</text>
<text x="504" y="624.5" font-family='"Liberation Sans", sans-serif' font-size="74" fill="#000"><tspan font-style="italic">E</tspan><tspan font-size="46" dy="19.5">g</tspan><tspan dy="-19.5"> = 2.54 eV</tspan></text>
<text x="241" y="955" font-family='"Liberation Serif", serif' font-size="61" text-anchor="middle" fill="#000" >Γ</text>
<text x="393" y="958" font-family='"Liberation Serif", serif' font-size="61" text-anchor="middle" fill="#000" >X</text>
<text x="471.5" y="958" font-family='"Liberation Serif", serif' font-size="61" text-anchor="middle" fill="#000" >Y</text>
<text x="661" y="955" font-family='"Liberation Serif", serif' font-size="61" text-anchor="middle" fill="#000" >Γ</text>
<text x="828" y="958" font-family='"Liberation Serif", serif' font-size="61" text-anchor="middle" fill="#000" >Z</text>
<text x="905.5" y="958" font-family='"Liberation Serif", serif' font-size="61" text-anchor="middle" fill="#000" >R</text>
<text x="1224.5" y="955" font-family='"Liberation Serif", serif' font-size="61" text-anchor="middle" fill="#000" >Γ</text>
<line x1="432.3" y1="899" x2="432.3" y2="965" stroke="#000" stroke-width="3.4" />
<line x1="864" y1="899" x2="864" y2="965" stroke="#000" stroke-width="3.4" />
<text x="731.3" y="1028" font-family='"Liberation Sans", sans-serif' font-size="65.5" text-anchor="middle" fill="#000" >Band Structure</text>
<clipPath id="cb"><rect x="1477.5" y="56" width="978" height="823.5"/></clipPath>
<g clip-path="url(#cb)">
<path d="M1474.6 54.6 L1967.2 54.6 L1967.2 214.9 L1920.6 214.3 L1882.7 207.6 L1839 199.7 L1809.8 193 L1722.3 188.7 L1649.5 185.8 L1586.8 184.3 L1474.6 187.2Z" fill="#00009f" />
<path d="M1917.1 54.6 L2457.8 54.6 L2457.8 187.2 L2357.2 185.8 L2269.8 191.6 L2182.3 203.2 L2124.1 214.9 L2078.9 214.9 L1917.1 214.9Z" fill="#00009f" />
<path d="M1477 143.4 L1535.8 140.9 L1586.8 139.1 L1642 142.1 L1686.2 144.8 L1642 148.3 L1586.8 152.9 L1535.8 152.2 L1477 151.2Z" fill="#fff" />
<path d="M1477.0 149.7 C1483.9 149.8 1505.4 149.9 1518.1 150.1 C1530.8 150.3 1547.6 151.0 1553.5 151.2" fill="none" stroke="#00009f" stroke-width="2.5" />
<path d="M1544.5 70.0 L1551.6 69.3 L1558.6 68.8 L1565.7 68.5 L1572.7 68.2 L1579.8 67.9 L1586.8 67.8 L1593.8 67.9 L1600.9 68.2 L1607.9 68.5 L1615.0 68.8 L1622.0 69.3 L1629.1 70.0 L1629.1 70.0 L1622.0 70.5 L1615.0 70.6 L1607.9 70.7 L1600.9 70.7 L1593.8 70.6 L1586.8 70.5 L1579.8 70.6 L1572.7 70.7 L1565.7 70.7 L1558.6 70.6 L1551.6 70.5 L1544.5 70.0Z" fill="#fff" opacity="0.69"/>
<path d="M1547.5 79.4 L1579.0 77.7 L1610.6 76.7 L1642.2 76.2 L1673.8 77.2 L1705.3 78.3 L1736.9 78.4 L1768.5 77.4 L1800.1 76.5 L1831.7 76.0 L1863.2 76.8 L1894.8 77.8 L1926.4 79.4 L1926.4 79.4 L1894.8 80.0 L1863.2 80.1 L1831.7 80.0 L1800.1 81.0 L1768.5 82.2 L1736.9 83.4 L1705.3 83.1 L1673.8 81.7 L1642.2 80.2 L1610.6 79.9 L1579.0 79.9 L1547.5 79.4Z" fill="#fff" opacity="0.9199999999999999"/>
<path d="M1617.4 85.2 L1628.6 84.2 L1639.8 83.7 L1650.9 83.2 L1662.1 82.8 L1673.3 82.5 L1684.5 82.2 L1695.6 82.0 L1706.8 81.5 L1718.0 81.1 L1729.2 80.8 L1740.3 80.6 L1751.5 80.8 L1751.5 80.8 L1740.3 82.1 L1729.2 83.0 L1718.0 83.8 L1706.8 84.6 L1695.6 85.2 L1684.5 85.5 L1673.3 85.7 L1662.1 85.8 L1650.9 85.9 L1639.8 85.8 L1628.6 85.7 L1617.4 85.2Z" fill="#fff" opacity="0.69"/>
<path d="M1736.9 92.5 L1753.9 91.3 L1770.9 90.6 L1787.9 90.1 L1804.9 89.7 L1821.9 89.3 L1838.9 89.1 L1856.0 89.3 L1873.0 89.7 L1890.0 90.1 L1907.0 90.6 L1924.0 91.3 L1941.0 92.5 L1941.0 92.5 L1924.0 93.3 L1907.0 93.5 L1890.0 93.7 L1873.0 93.7 L1856.0 93.7 L1838.9 93.5 L1821.9 93.7 L1804.9 93.7 L1787.9 93.7 L1770.9 93.5 L1753.9 93.3 L1736.9 92.5Z" fill="#fff" opacity="0.9199999999999999"/>
<path d="M1541.6 100.6 L1547.2 99.9 L1552.8 99.5 L1558.4 99.2 L1564.0 99.0 L1569.6 98.8 L1575.1 98.7 L1580.7 98.8 L1586.3 99.0 L1591.9 99.2 L1597.5 99.5 L1603.1 99.9 L1608.7 100.6 L1608.7 100.6 L1603.1 101.1 L1597.5 101.3 L1591.9 101.4 L1586.3 101.5 L1580.7 101.5 L1575.1 101.4 L1569.6 101.5 L1564.0 101.5 L1558.4 101.5 L1552.8 101.4 L1547.2 101.1 L1541.6 100.6Z" fill="#fff" opacity="0.69"/>
<path d="M1699.0 99.2 L1705.8 98.6 L1712.6 98.4 L1719.4 98.3 L1726.2 98.3 L1733.0 98.3 L1739.8 98.4 L1746.6 98.6 L1753.4 98.8 L1760.2 99.0 L1767.0 99.4 L1773.8 99.8 L1780.7 100.6 L1780.7 100.6 L1773.8 101.3 L1767.0 101.5 L1760.2 101.7 L1753.4 101.8 L1746.6 101.8 L1739.8 101.7 L1733.0 101.6 L1726.2 101.3 L1719.4 101.0 L1712.6 100.6 L1705.8 100.1 L1699.0 99.2Z" fill="#fff" opacity="0.8049999999999999"/>
<path d="M1728.2 109.4 L1752.5 108.0 L1776.8 107.1 L1801.1 106.5 L1825.3 105.9 L1849.6 105.4 L1873.9 105.3 L1898.2 106.0 L1922.5 106.7 L1946.8 107.6 L1971.1 108.6 L1995.4 109.7 L2019.7 111.4 L2019.7 111.4 L1995.4 111.9 L1971.1 111.8 L1946.8 111.6 L1922.5 111.3 L1898.2 110.8 L1873.9 110.2 L1849.6 110.3 L1825.3 110.4 L1801.1 110.5 L1776.8 110.4 L1752.5 110.2 L1728.2 109.4Z" fill="#fff" opacity="0.8624999999999999"/>
<path d="M1594.1 112.3 L1604.3 112.1 L1614.5 112.1 L1624.7 112.3 L1634.9 112.5 L1645.1 112.8 L1655.3 113.0 L1665.5 113.2 L1675.7 113.4 L1685.9 113.7 L1696.1 114.0 L1706.3 114.5 L1716.5 115.2 L1716.5 115.2 L1706.3 115.7 L1696.1 115.8 L1685.9 115.9 L1675.7 115.9 L1665.5 115.9 L1655.3 115.8 L1645.1 115.5 L1634.9 115.1 L1624.7 114.5 L1614.5 114.0 L1604.3 113.3 L1594.1 112.3Z" fill="#fff" opacity="0.575"/>
<path d="M1891.4 102.7 L1902.1 101.5 L1912.8 100.9 L1923.5 100.4 L1934.2 100.1 L1944.9 99.8 L1955.5 99.6 L1966.2 99.9 L1976.9 100.4 L1987.6 100.9 L1998.3 101.5 L2009.0 102.3 L2019.7 103.5 L2019.7 103.5 L2009.0 104.2 L1998.3 104.4 L1987.6 104.5 L1976.9 104.4 L1966.2 104.2 L1955.5 104.0 L1944.9 104.1 L1934.2 104.1 L1923.5 104.0 L1912.8 103.8 L1902.1 103.5 L1891.4 102.7Z" fill="#fff" opacity="0.9774999999999999"/>
<path d="M1524.1 121.6 L1539.2 121.5 L1554.3 121.8 L1569.3 122.2 L1584.4 122.7 L1599.4 123.1 L1614.5 123.4 L1629.6 123.7 L1644.6 124.1 L1659.7 124.6 L1674.7 125.2 L1689.8 125.8 L1704.9 126.9 L1704.9 126.9 L1689.8 127.3 L1674.7 127.3 L1659.7 127.3 L1644.6 127.1 L1629.6 126.9 L1614.5 126.7 L1599.4 126.3 L1584.4 125.8 L1569.3 124.9 L1554.3 124.0 L1539.2 123.0 L1524.1 121.6Z" fill="#fff" opacity="0.8049999999999999"/>
<path d="M1766.1 125.1 L1787.2 124.3 L1808.3 124.0 L1829.5 123.9 L1850.6 123.9 L1871.7 123.9 L1892.9 124.0 L1914.0 124.4 L1935.1 124.8 L1956.3 125.3 L1977.4 126.0 L1998.5 126.8 L2019.7 128.0 L2019.7 128.0 L1998.5 128.7 L1977.4 128.9 L1956.3 128.9 L1935.1 128.8 L1914.0 128.7 L1892.9 128.4 L1871.7 128.2 L1850.6 127.9 L1829.5 127.5 L1808.3 126.9 L1787.2 126.3 L1766.1 125.1Z" fill="#fff" opacity="0.9199999999999999"/>
<path d="M1745.7 133.9 L1768.5 133.2 L1791.3 133.1 L1814.2 133.2 L1837.0 133.3 L1859.8 133.6 L1882.7 133.7 L1905.5 133.8 L1928.3 133.9 L1951.2 134.2 L1974.0 134.6 L1996.8 135.1 L2019.7 136.2 L2019.7 136.2 L1996.8 137.3 L1974.0 137.8 L1951.2 138.2 L1928.3 138.5 L1905.5 138.6 L1882.7 138.7 L1859.8 138.5 L1837.0 137.9 L1814.2 137.2 L1791.3 136.4 L1768.5 135.4 L1745.7 133.9Z" fill="#fff" opacity="1.0"/>
<path d="M1897.2 144.9 L1907.5 144.3 L1917.7 144.0 L1927.9 143.8 L1938.1 143.8 L1948.3 143.7 L1958.5 143.8 L1968.7 143.9 L1978.9 144.2 L1989.1 144.6 L1999.3 145.1 L2009.5 145.7 L2019.7 146.7 L2019.7 146.7 L2009.5 147.2 L1999.3 147.3 L1989.1 147.3 L1978.9 147.2 L1968.7 147.1 L1958.5 147.1 L1948.3 147.0 L1938.1 146.8 L1927.9 146.5 L1917.7 146.2 L1907.5 145.8 L1897.2 144.9Z" fill="#fff" opacity="0.69"/>
<path d="M1623.2 160.1 L1656.3 157.9 L1689.3 156.4 L1722.3 155.2 L1755.4 154.1 L1788.4 153.8 L1821.5 153.6 L1854.5 153.5 L1887.5 153.6 L1920.6 154.6 L1953.6 156.0 L1986.6 157.7 L2019.7 160.1 L2019.7 160.1 L1986.6 160.6 L1953.6 160.4 L1920.6 159.9 L1887.5 159.7 L1854.5 160.0 L1821.5 160.2 L1788.4 160.3 L1755.4 160.2 L1722.3 160.5 L1689.3 160.8 L1656.3 160.8 L1623.2 160.1Z" fill="#fff" opacity="1.0"/>
<path d="M1588.3 167.7 L1624.2 166.4 L1660.2 165.7 L1696.1 165.2 L1732.1 164.9 L1768.0 165.0 L1804.0 165.3 L1839.9 165.6 L1875.9 166.1 L1911.8 166.9 L1947.8 167.9 L1983.7 168.9 L2019.7 170.6 L2019.7 170.6 L1983.7 171.1 L1947.8 171.1 L1911.8 170.9 L1875.9 170.6 L1839.9 170.5 L1804.0 170.2 L1768.0 169.9 L1732.1 169.4 L1696.1 169.2 L1660.2 169.0 L1624.2 168.6 L1588.3 167.7Z" fill="#fff" opacity="0.9774999999999999"/>
<path d="M1588.3 174.1 L1618.9 173.1 L1649.5 172.6 L1680.1 172.1 L1710.7 171.8 L1741.3 172.0 L1771.9 172.7 L1802.5 173.4 L1833.1 174.2 L1863.7 174.7 L1894.3 174.5 L1924.9 174.3 L1955.5 174.7 L1955.5 174.7 L1924.9 176.1 L1894.3 177.0 L1863.7 177.8 L1833.1 177.7 L1802.5 177.2 L1771.9 176.5 L1741.3 175.8 L1710.7 175.3 L1680.1 175.3 L1649.5 175.1 L1618.9 174.8 L1588.3 174.1Z" fill="#fff" opacity="0.8049999999999999"/>
<path d="M1477.5 175.5 L1481.6 175.0 L1485.7 174.7 L1489.9 174.5 L1494.0 174.4 L1498.1 174.2 L1502.3 174.2 L1506.4 174.2 L1510.5 174.4 L1514.7 174.6 L1518.8 174.9 L1522.9 175.2 L1527.0 175.8 L1527.0 175.8 L1522.9 176.2 L1518.8 176.4 L1514.7 176.4 L1510.5 176.4 L1506.4 176.4 L1502.3 176.4 L1498.1 176.4 L1494.0 176.4 L1489.9 176.3 L1485.7 176.2 L1481.6 176.0 L1477.5 175.5Z" fill="#fff" opacity="0.45999999999999996"/>
<path d="M1649.5 186.3 L1722.3 185.8 L1824.4 189.2 L1780.7 198.9 L1722.3 194.5 L1681.5 189.2Z" fill="#fff" />
<path d="M1477.0 190.8 C1483.9 191.4 1505.4 192.9 1518.1 194.3 C1530.8 195.8 1542.1 198.2 1553.5 199.6 C1564.9 201.1 1581.2 202.6 1586.8 203.2" fill="none" stroke="#00009f" stroke-width="4" />
<path d="M1477.0 203.2 C1483.9 203.7 1505.4 205.2 1518.1 206.2 C1530.8 207.2 1542.1 208.4 1553.5 209.4 C1564.9 210.4 1581.2 211.9 1586.8 212.4" fill="none" stroke="#00009f" stroke-width="4" />
<path d="M1477.0 216.5 C1482.4 215.9 1498.0 214.1 1509.2 212.9 C1520.5 211.7 1534.3 210.4 1544.7 209.4 C1555.0 208.4 1564.2 207.8 1571.2 206.7 C1578.2 205.7 1584.2 203.8 1586.8 203.2" fill="none" stroke="#00009f" stroke-width="4" />
<path d="M1477.0 224.4 C1482.4 224.0 1498.0 223.1 1509.2 221.8 C1520.5 220.4 1534.3 217.9 1544.7 216.5 C1555.0 215.1 1564.2 214.1 1571.2 213.5 C1578.2 212.8 1584.2 212.6 1586.8 212.4" fill="none" stroke="#00009f" stroke-width="4" />
<path d="M1477.0 226.2 C1483.9 227.0 1505.4 229.4 1518.1 231.2 C1530.8 232.9 1542.1 235.2 1553.5 236.8 C1564.9 238.4 1581.2 240.1 1586.8 240.7" fill="none" stroke="#00009f" stroke-width="4" />
<path d="M1477.0 236.8 C1483.9 237.4 1505.4 238.7 1518.1 240.4 C1530.8 242.0 1542.1 244.6 1553.5 246.6 C1564.9 248.5 1581.2 251.0 1586.8 251.9" fill="none" stroke="#00009f" stroke-width="4" />
<path d="M1477.0 250.1 C1483.9 249.6 1505.4 248.1 1518.1 247.1 C1530.8 246.1 1542.1 245.0 1553.5 243.9 C1564.9 242.8 1581.2 241.2 1586.8 240.7" fill="none" stroke="#00009f" stroke-width="4" />
<path d="M1477.0 263.4 C1483.9 262.9 1505.4 261.8 1518.1 260.7 C1530.8 259.6 1542.1 258.1 1553.5 256.6 C1564.9 255.2 1581.2 252.7 1586.8 251.9" fill="none" stroke="#00009f" stroke-width="4" />
<path d="M1477.0 221.8 C1480.9 222.2 1492.7 223.4 1500.4 224.4 C1508.1 225.5 1519.6 227.4 1523.4 228.0" fill="none" stroke="#00009f" stroke-width="6.2" />
<path d="M1477 274 L1586.8 276.6 L1586.8 287.3 L1535.8 289.9 L1477 290.8Z" fill="#00009f" />
<path d="M1477.0 280.2 L1482.2 279.3 L1487.4 278.8 L1492.6 278.4 L1497.8 278.1 L1503.0 277.9 L1508.2 277.7 L1513.4 277.8 L1518.6 278.1 L1523.8 278.4 L1529.0 278.8 L1534.1 279.3 L1539.3 280.2 L1539.3 280.2 L1534.1 280.8 L1529.0 281.0 L1523.8 281.1 L1518.6 281.1 L1513.4 281.0 L1508.2 281.0 L1503.0 281.1 L1497.8 281.1 L1492.6 281.1 L1487.4 281.0 L1482.2 280.8 L1477.0 280.2Z" fill="#fff" opacity="0.5175"/>
<path d="M1588.9 280.7 L1597.0 279.8 L1605.1 279.3 L1613.2 278.9 L1621.4 278.6 L1629.5 278.3 L1637.6 278.4 L1645.7 278.6 L1653.8 278.9 L1661.9 279.3 L1670.0 279.8 L1678.1 280.4 L1686.2 281.4 L1686.2 281.4 L1678.1 282.1 L1670.0 282.3 L1661.9 282.4 L1653.8 282.4 L1645.7 282.4 L1637.6 282.2 L1629.5 282.1 L1621.4 282.1 L1613.2 282.0 L1605.1 281.8 L1597.0 281.5 L1588.9 280.7Z" fill="#fff" opacity="0.575"/>
<path d="M1586.8 203.2 C1614.3 203.1 1688.3 202.6 1751.5 202.4 C1814.7 202.1 1930.0 201.9 1965.8 201.8" fill="none" stroke="#00009f" stroke-width="5" />
<path d="M1586.8 214.9 C1614.3 214.8 1688.3 214.8 1751.5 214.3 C1814.7 213.8 1930.0 212.4 1965.8 212.0" fill="none" stroke="#00009f" stroke-width="5" />
<path d="M1586.8 241.1 C1604.5 240.6 1656.0 240.6 1693.2 238.2 C1730.4 235.8 1775.8 230.4 1809.8 226.6 C1843.8 222.7 1871.3 218.5 1897.2 214.9 C1923.2 211.3 1954.3 206.4 1965.8 204.7" fill="none" stroke="#00009f" stroke-width="4.8" />
<path d="M1586.8 251.3 C1604.5 250.7 1656.0 250.0 1693.2 247.5 C1730.4 245.1 1775.8 240.3 1809.8 236.8 C1843.8 233.3 1871.3 230.2 1897.2 226.6 C1923.2 222.9 1954.3 216.8 1965.8 214.9" fill="none" stroke="#00009f" stroke-width="4.8" />
<path d="M1586.8 279.0 C1604.5 278.4 1660.9 277.2 1693.2 275.5 C1725.5 273.8 1751.5 271.6 1780.7 268.8 C1809.8 266.0 1843.8 261.4 1868.1 258.6 C1892.4 255.9 1910.1 254.4 1926.4 252.2 C1942.7 250.0 1959.2 246.6 1965.8 245.5" fill="none" stroke="#00009f" stroke-width="5" />
<path d="M1586.8 286.3 C1604.5 285.8 1660.9 285.1 1693.2 283.4 C1725.5 281.7 1751.5 279.0 1780.7 276.1 C1809.8 273.2 1843.8 268.8 1868.1 265.9 C1892.4 263.0 1910.1 261.1 1926.4 258.6 C1942.7 256.2 1959.2 252.6 1965.8 251.3" fill="none" stroke="#00009f" stroke-width="5.6" />
<path d="M1634.9 184.3 C1649.5 187.2 1698.1 196.8 1722.3 201.8 C1746.6 206.8 1761.2 210.4 1780.7 214.3 C1800.1 218.2 1819.5 221.1 1839.0 225.1 C1858.4 229.1 1876.1 234.5 1897.2 238.2 C1918.4 242.0 1954.3 246.0 1965.8 247.5" fill="none" stroke="#00009f" stroke-width="6.2" />
<path d="M1678.6 185.8 C1690.8 188.4 1727.2 196.5 1751.5 201.8 C1775.8 207.0 1802.5 212.6 1824.4 217.2 C1846.2 221.8 1859.1 225.0 1882.7 229.5 C1906.2 233.9 1951.9 241.6 1965.8 244.0" fill="none" stroke="#00009f" stroke-width="5" />
<path d="M1780.7 197.4 C1795.2 198.4 1837.2 201.5 1868.1 203.2 C1899.0 204.9 1949.5 206.9 1965.8 207.6" fill="none" stroke="#00009f" stroke-width="6.2" />
<path d="M1917.1 239.7 L2078.9 239.7 L2109.5 241.1 L2109.5 255.7 L2078.9 254.3 L1917.1 254.3Z" fill="#00009f" />
<path d="M1890.8 74.4 L1901.1 73.3 L1911.3 72.6 L1921.5 72.1 L1931.7 71.7 L1941.9 71.4 L1952.1 71.2 L1962.3 71.1 L1972.5 71.4 L1982.7 71.9 L1992.9 72.5 L2003.1 73.2 L2013.3 74.4 L2013.3 74.4 L2003.1 75.1 L1992.9 75.4 L1982.7 75.5 L1972.5 75.5 L1962.3 75.4 L1952.1 75.6 L1941.9 75.7 L1931.7 75.8 L1921.5 75.7 L1911.3 75.5 L1901.1 75.2 L1890.8 74.4Z" fill="#fff" opacity="0.9199999999999999"/>
<path d="M2022.0 66.8 L2029.6 66.1 L2037.1 65.7 L2044.6 65.5 L2052.1 65.3 L2059.7 65.2 L2067.2 65.2 L2074.7 65.4 L2082.3 65.6 L2089.8 65.9 L2097.3 66.3 L2104.9 66.8 L2112.4 67.7 L2112.4 67.7 L2104.9 68.3 L2097.3 68.5 L2089.8 68.6 L2082.3 68.6 L2074.7 68.6 L2067.2 68.5 L2059.7 68.4 L2052.1 68.3 L2044.6 68.2 L2037.1 67.9 L2029.6 67.6 L2022.0 66.8Z" fill="#fff" opacity="0.69"/>
<path d="M2001.6 78.5 L2012.8 77.7 L2024.0 77.5 L2035.1 77.4 L2046.3 77.4 L2057.5 77.6 L2068.7 77.7 L2079.8 77.6 L2091.0 77.5 L2102.2 77.6 L2113.4 77.8 L2124.5 78.1 L2135.7 79.1 L2135.7 79.1 L2124.5 80.3 L2113.4 81.1 L2102.2 81.6 L2091.0 82.1 L2079.8 82.4 L2068.7 82.7 L2057.5 82.4 L2046.3 82.0 L2035.1 81.4 L2024.0 80.7 L2012.8 79.9 L2001.6 78.5Z" fill="#fff" opacity="0.8049999999999999"/>
<path d="M1908.3 88.1 L1915.6 87.4 L1922.9 87.1 L1930.2 86.9 L1937.5 86.7 L1944.8 86.7 L1952.1 86.7 L1959.4 86.7 L1966.6 86.8 L1973.9 86.9 L1981.2 87.0 L1988.5 87.2 L1995.8 87.8 L1995.8 87.8 L1988.5 88.7 L1981.2 89.2 L1973.9 89.5 L1966.6 89.8 L1959.4 90.0 L1952.1 90.0 L1944.8 89.9 L1937.5 89.8 L1930.2 89.6 L1922.9 89.3 L1915.6 88.9 L1908.3 88.1Z" fill="#fff" opacity="0.69"/>
<path d="M1832.5 104.7 L1859.0 102.6 L1885.5 101.3 L1912.0 100.3 L1938.5 99.5 L1964.9 98.8 L1991.4 98.8 L2017.9 99.4 L2044.4 100.2 L2070.9 101.1 L2097.3 102.1 L2123.8 101.8 L2150.3 102.4 L2150.3 102.4 L2123.8 105.2 L2097.3 107.2 L2070.9 107.4 L2044.4 107.2 L2017.9 106.9 L1991.4 106.5 L1964.9 106.4 L1938.5 106.6 L1912.0 106.6 L1885.5 106.4 L1859.0 106.0 L1832.5 104.7Z" fill="#fff" opacity="1.0"/>
<path d="M1914.2 111.4 L1924.4 110.7 L1934.6 110.4 L1944.8 110.2 L1955.0 110.1 L1965.2 110.0 L1975.4 110.0 L1985.6 110.1 L1995.8 110.2 L2006.0 110.4 L2016.2 110.6 L2026.4 111.0 L2036.6 111.7 L2036.6 111.7 L2026.4 112.4 L2016.2 112.8 L2006.0 113.0 L1995.8 113.2 L1985.6 113.3 L1975.4 113.3 L1965.2 113.3 L1955.0 113.1 L1944.8 112.9 L1934.6 112.6 L1924.4 112.2 L1914.2 111.4Z" fill="#fff" opacity="0.69"/>
<path d="M2147.4 99.8 L2151.5 99.2 L2155.6 99.1 L2159.8 99.0 L2163.9 98.9 L2168.0 98.9 L2172.1 99.3 L2176.3 100.1 L2180.4 101.0 L2184.5 102.0 L2188.7 103.0 L2192.8 104.2 L2196.9 105.6 L2196.9 105.6 L2192.8 105.4 L2188.7 104.8 L2184.5 104.2 L2180.4 103.5 L2176.3 102.8 L2172.1 102.0 L2168.0 101.6 L2163.9 101.4 L2159.8 101.2 L2155.6 100.9 L2151.5 100.5 L2147.4 99.8Z" fill="#fff" opacity="0.45999999999999996"/>
<path d="M1861.7 127.4 L1884.8 126.3 L1907.9 125.8 L1930.9 125.5 L1954.0 125.3 L1977.1 125.2 L2000.2 125.3 L2023.2 125.2 L2046.3 125.2 L2069.4 125.2 L2092.5 125.5 L2115.5 125.8 L2138.6 126.9 L2138.6 126.9 L2115.5 128.3 L2092.5 129.1 L2069.4 129.7 L2046.3 130.2 L2023.2 130.6 L2000.2 130.8 L1977.1 130.6 L1954.0 130.3 L1930.9 130.0 L1907.9 129.4 L1884.8 128.8 L1861.7 127.4Z" fill="#fff" opacity="1.0"/>
<path d="M1992.9 138.5 L2005.0 137.5 L2017.2 137.1 L2029.3 136.7 L2041.5 136.5 L2053.6 136.4 L2065.8 136.3 L2077.9 136.0 L2090.0 135.7 L2102.2 135.6 L2114.3 135.5 L2126.5 135.6 L2138.6 136.2 L2138.6 136.2 L2126.5 137.6 L2114.3 138.4 L2102.2 139.1 L2090.0 139.8 L2077.9 140.3 L2065.8 140.7 L2053.6 140.7 L2041.5 140.5 L2029.3 140.3 L2017.2 140.0 L2005.0 139.5 L1992.9 138.5Z" fill="#fff" opacity="0.8049999999999999"/>
<path d="M1914.2 145.5 L1923.2 144.9 L1932.1 144.6 L1941.1 144.4 L1950.1 144.3 L1959.1 144.2 L1968.1 144.1 L1977.1 144.0 L1986.1 144.0 L1995.1 144.1 L2004.0 144.2 L2013.0 144.4 L2022.0 144.9 L2022.0 144.9 L2013.0 145.6 L2004.0 146.0 L1995.1 146.3 L1986.1 146.6 L1977.1 146.7 L1968.1 146.9 L1959.1 146.9 L1950.1 146.8 L1941.1 146.6 L1932.1 146.4 L1923.2 146.1 L1914.2 145.5Z" fill="#fff" opacity="0.575"/>
<path d="M1861.7 158.1 L1881.6 156.7 L1901.5 156.2 L1921.5 155.8 L1941.4 155.6 L1961.3 155.6 L1981.2 155.6 L2001.1 155.4 L2021.1 155.3 L2041.0 155.4 L2060.9 155.6 L2080.8 156.0 L2100.7 157.2 L2100.7 157.2 L2080.8 158.9 L2060.9 159.9 L2041.0 160.7 L2021.1 161.3 L2001.1 161.8 L1981.2 162.2 L1961.3 162.0 L1941.4 161.7 L1921.5 161.2 L1901.5 160.5 L1881.6 159.7 L1861.7 158.1Z" fill="#fff" opacity="1.0"/>
<path d="M1984.1 165.3 L1993.8 164.3 L2003.6 163.7 L2013.3 163.2 L2023.0 162.8 L2032.7 162.5 L2042.4 162.3 L2052.1 162.6 L2061.9 163.0 L2071.6 163.5 L2081.3 164.1 L2091.0 164.8 L2100.7 165.9 L2100.7 165.9 L2091.0 166.5 L2081.3 166.6 L2071.6 166.6 L2061.9 166.5 L2052.1 166.4 L2042.4 166.1 L2032.7 166.3 L2023.0 166.3 L2013.3 166.3 L2003.6 166.2 L1993.8 166.0 L1984.1 165.3Z" fill="#fff" opacity="0.69"/>
<path d="M2007.5 169.7 L2015.2 168.9 L2023.0 168.4 L2030.8 168.2 L2038.5 168.0 L2046.3 167.8 L2054.1 167.8 L2061.9 167.9 L2069.6 168.1 L2077.4 168.3 L2085.2 168.6 L2093.0 169.1 L2100.7 170.0 L2100.7 170.0 L2093.0 170.8 L2085.2 171.2 L2077.4 171.4 L2069.6 171.6 L2061.9 171.7 L2054.1 171.7 L2046.3 171.6 L2038.5 171.5 L2030.8 171.3 L2023.0 171.0 L2015.2 170.6 L2007.5 169.7Z" fill="#fff" opacity="0.8049999999999999"/>
<path d="M2007.5 178.5 L2015.2 177.6 L2023.0 177.1 L2030.8 176.7 L2038.5 176.5 L2046.3 176.3 L2054.1 176.3 L2061.9 176.3 L2069.6 176.5 L2077.4 176.8 L2085.2 177.1 L2093.0 177.6 L2100.7 178.5 L2100.7 178.5 L2093.0 179.3 L2085.2 179.6 L2077.4 179.9 L2069.6 180.0 L2061.9 180.1 L2054.1 180.1 L2046.3 180.1 L2038.5 180.0 L2030.8 179.9 L2023.0 179.6 L2015.2 179.3 L2007.5 178.5Z" fill="#fff" opacity="0.8049999999999999"/>
<path d="M1890.8 190.1 L1903.5 188.5 L1916.1 187.6 L1928.7 187.0 L1941.4 186.5 L1954.0 186.1 L1966.6 185.9 L1979.3 186.0 L1991.9 186.2 L2004.5 186.6 L2017.2 187.1 L2029.8 187.8 L2042.4 189.2 L2042.4 189.2 L2029.8 190.7 L2017.2 191.4 L2004.5 191.9 L1991.9 192.3 L1979.3 192.5 L1966.6 192.5 L1954.0 192.6 L1941.4 192.5 L1928.7 192.3 L1916.1 192.0 L1903.5 191.4 L1890.8 190.1Z" fill="#fff" opacity="1.0"/>
<path d="M1949.2 199.7 L1961.3 198.9 L1973.4 198.5 L1985.6 198.2 L1997.7 198.1 L2009.9 198.1 L2022.0 198.1 L2034.2 198.2 L2046.3 198.3 L2058.5 198.5 L2070.6 198.9 L2082.8 199.3 L2094.9 200.3 L2094.9 200.3 L2082.8 201.3 L2070.6 201.8 L2058.5 202.1 L2046.3 202.3 L2034.2 202.5 L2022.0 202.5 L2009.9 202.4 L1997.7 202.1 L1985.6 201.8 L1973.4 201.4 L1961.3 200.8 L1949.2 199.7Z" fill="#fff" opacity="0.8049999999999999"/>
<path d="M1949.2 206.2 L1960.3 205.1 L1971.5 204.5 L1982.7 204.0 L1993.8 203.7 L2005.0 203.4 L2016.2 203.4 L2027.4 203.6 L2038.5 203.8 L2049.7 204.1 L2060.9 204.5 L2072.1 205.1 L2083.2 206.2 L2083.2 206.2 L2072.1 207.0 L2060.9 207.4 L2049.7 207.7 L2038.5 207.8 L2027.4 207.9 L2016.2 207.8 L2005.0 207.8 L1993.8 207.7 L1982.7 207.6 L1971.5 207.4 L1960.3 207.0 L1949.2 206.2Z" fill="#fff" opacity="0.8049999999999999"/>
<path d="M2275.6 86.6 L2278.5 86.3 L2281.5 86.1 L2284.4 86.1 L2287.3 86.1 L2290.2 86.1 L2293.1 86.2 L2296.0 86.3 L2299.0 86.5 L2301.9 86.8 L2304.8 87.1 L2307.7 87.5 L2310.6 88.1 L2310.6 88.1 L2307.7 88.4 L2304.8 88.5 L2301.9 88.6 L2299.0 88.5 L2296.0 88.5 L2293.1 88.4 L2290.2 88.3 L2287.3 88.1 L2284.4 87.9 L2281.5 87.6 L2278.5 87.2 L2275.6 86.6Z" fill="#fff" opacity="0.45999999999999996"/>
<path d="M2284.4 111.4 L2291.4 110.6 L2298.5 110.0 L2305.5 109.6 L2312.6 109.2 L2319.6 108.9 L2326.6 108.6 L2333.7 108.5 L2340.7 108.5 L2347.8 108.6 L2354.8 108.7 L2361.9 108.9 L2368.9 109.4 L2368.9 109.4 L2361.9 110.1 L2354.8 110.5 L2347.8 110.8 L2340.7 111.0 L2333.7 111.2 L2326.6 111.4 L2319.6 111.6 L2312.6 111.7 L2305.5 111.8 L2298.5 111.9 L2291.4 111.8 L2284.4 111.4Z" fill="#fff" opacity="0.5175"/>
<path d="M2373.7 147.3 L2380.5 146.2 L2387.3 145.7 L2394.0 145.3 L2400.8 145.1 L2407.5 145.0 L2414.3 145.0 L2421.1 145.2 L2427.8 145.5 L2434.6 146.0 L2441.3 146.5 L2448.1 147.2 L2454.8 148.6 L2454.8 148.6 L2448.1 149.7 L2441.3 150.1 L2434.6 150.4 L2427.8 150.6 L2421.1 150.6 L2414.3 150.5 L2407.5 150.4 L2400.8 150.1 L2394.0 149.8 L2387.3 149.3 L2380.5 148.6 L2373.7 147.3Z" fill="#fff" opacity="1.0"/>
<path d="M2109.1 156.7 L2119.2 155.4 L2129.4 154.6 L2139.5 154.0 L2149.6 153.5 L2159.8 153.2 L2169.9 153.0 L2180.1 153.3 L2190.2 153.6 L2200.3 154.1 L2210.5 154.7 L2220.6 155.4 L2230.7 156.7 L2230.7 156.7 L2220.6 157.6 L2210.5 157.9 L2200.3 158.1 L2190.2 158.2 L2180.1 158.1 L2169.9 158.0 L2159.8 158.0 L2149.6 158.1 L2139.5 158.0 L2129.4 157.9 L2119.2 157.6 L2109.1 156.7Z" fill="#fff" opacity="0.9199999999999999"/>
<path d="M2239.3 156.7 L2249.6 154.9 L2259.9 153.8 L2270.2 152.8 L2280.5 152.0 L2290.9 151.2 L2301.2 151.0 L2311.5 151.1 L2321.8 151.4 L2332.1 151.7 L2342.4 152.2 L2352.8 152.9 L2363.1 154.1 L2363.1 154.1 L2352.8 155.3 L2342.4 155.8 L2332.1 156.2 L2321.8 156.4 L2311.5 156.5 L2301.2 156.5 L2290.9 156.6 L2280.5 157.0 L2270.2 157.3 L2259.9 157.4 L2249.6 157.4 L2239.3 156.7Z" fill="#fff" opacity="1.0"/>
<path d="M2104.8 165.2 L2108.7 164.1 L2112.6 163.6 L2116.6 163.2 L2120.5 163.0 L2124.4 162.8 L2128.3 162.8 L2132.2 162.9 L2136.1 163.1 L2140.0 163.5 L2143.9 163.9 L2147.9 164.5 L2151.8 165.7 L2151.8 165.7 L2147.9 166.7 L2143.9 167.2 L2140.0 167.5 L2136.1 167.7 L2132.2 167.7 L2128.3 167.7 L2124.4 167.7 L2120.5 167.5 L2116.6 167.3 L2112.6 166.9 L2108.7 166.3 L2104.8 165.2Z" fill="#fff" opacity="0.8049999999999999"/>
<path d="M2162.4 167.0 L2168.1 165.8 L2173.8 165.2 L2179.5 164.8 L2185.2 164.4 L2190.9 164.1 L2196.6 164.0 L2202.3 163.9 L2208.0 163.8 L2213.7 163.9 L2219.4 164.1 L2225.1 164.4 L2230.7 165.2 L2230.7 165.2 L2225.1 166.4 L2219.4 167.0 L2213.7 167.5 L2208.0 167.9 L2202.3 168.2 L2196.6 168.4 L2190.9 168.4 L2185.2 168.4 L2179.5 168.3 L2173.8 168.1 L2168.1 167.8 L2162.4 167.0Z" fill="#fff" opacity="0.9774999999999999"/>
<path d="M2247.8 165.2 L2258.0 164.0 L2268.1 163.2 L2278.2 162.6 L2288.4 162.0 L2298.5 161.6 L2308.6 161.4 L2318.8 161.4 L2328.9 161.6 L2339.1 161.9 L2349.2 162.2 L2359.3 162.7 L2369.5 163.8 L2369.5 163.8 L2359.3 164.7 L2349.2 165.1 L2339.1 165.4 L2328.9 165.6 L2318.8 165.7 L2308.6 165.8 L2298.5 165.9 L2288.4 166.1 L2278.2 166.1 L2268.1 166.1 L2258.0 165.9 L2247.8 165.2Z" fill="#fff" opacity="0.8049999999999999"/>
<path d="M2271.3 184.5 L2281.6 183.5 L2291.9 183.0 L2302.2 182.7 L2312.6 182.4 L2322.9 182.2 L2333.2 182.1 L2343.5 182.1 L2353.8 182.1 L2364.1 182.3 L2374.5 182.5 L2384.8 182.8 L2395.1 183.6 L2395.1 183.6 L2384.8 184.5 L2374.5 185.0 L2364.1 185.4 L2353.8 185.7 L2343.5 185.8 L2333.2 186.0 L2322.9 186.0 L2312.6 185.9 L2302.2 185.8 L2291.9 185.6 L2281.6 185.2 L2271.3 184.5Z" fill="#fff" opacity="0.69"/>
<path d="M2075.9 182.2 L2455.6 182.2 L2455.6 229.9 L2343.9 229.3 L2262.7 228.9 L2212 230.9 L2171.4 235 L2140.9 240 L2075.9 240Z" fill="#00009f" />
<path d="M2073.9 220.3 L2104.4 213.6 L2151.1 216.3 L2161.2 221.8 L2147 230.9 L2110.5 236.6 L2073.9 239Z" fill="#fff" />
<path d="M2270.8 185.0 L2281.2 184.2 L2291.5 183.7 L2301.8 183.3 L2312.1 183.0 L2322.4 182.7 L2332.8 182.6 L2343.1 182.7 L2353.4 182.8 L2363.7 183.1 L2374.0 183.4 L2384.4 183.8 L2394.7 184.6 L2394.7 184.6 L2384.4 185.3 L2374.0 185.6 L2363.7 185.8 L2353.4 185.9 L2343.1 185.9 L2332.8 185.9 L2322.4 186.0 L2312.1 186.0 L2301.8 186.0 L2291.5 185.8 L2281.2 185.6 L2270.8 185.0Z" fill="#fff" opacity="0.9199999999999999"/>
<path d="M2086.1 187.9 L2091.2 187.2 L2096.2 186.8 L2101.3 186.5 L2106.4 186.3 L2111.5 186.2 L2116.5 186.1 L2121.6 186.2 L2126.7 186.5 L2131.8 186.7 L2136.8 187.1 L2141.9 187.5 L2147.0 188.3 L2147.0 188.3 L2141.9 188.7 L2136.8 188.9 L2131.8 189.0 L2126.7 189.0 L2121.6 188.9 L2116.5 188.8 L2111.5 188.9 L2106.4 188.9 L2101.3 188.8 L2096.2 188.6 L2091.2 188.4 L2086.1 187.9Z" fill="#fff" opacity="0.69"/>
<path d="M2126.7 193.1 L2132.4 191.9 L2138.2 191.2 L2144.0 190.7 L2149.7 190.3 L2155.5 190.0 L2161.2 189.9 L2167.0 190.0 L2172.7 190.2 L2178.5 190.5 L2184.2 191.0 L2190.0 191.6 L2195.7 192.7 L2195.7 192.7 L2190.0 193.8 L2184.2 194.2 L2178.5 194.5 L2172.7 194.7 L2167.0 194.8 L2161.2 194.8 L2155.5 194.9 L2149.7 194.9 L2144.0 194.7 L2138.2 194.5 L2132.4 194.1 L2126.7 193.1Z" fill="#fff" opacity="1.0"/>
<path d="M2181.5 196.0 L2194.9 193.7 L2208.2 192.5 L2221.6 191.6 L2235.0 190.9 L2248.3 190.4 L2261.7 190.1 L2275.1 190.1 L2288.4 190.2 L2301.8 190.6 L2315.2 191.1 L2328.5 192.0 L2341.9 194.0 L2341.9 194.0 L2328.5 196.2 L2315.2 197.3 L2301.8 198.2 L2288.4 198.8 L2275.1 199.2 L2261.7 199.5 L2248.3 199.6 L2235.0 199.5 L2221.6 199.2 L2208.2 198.7 L2194.9 197.9 L2181.5 196.0Z" fill="#fff" opacity="1.0"/>
<path d="M2352 198.8 L2404.8 195.6 L2455.6 194.8 L2455.6 203.7 L2404.8 202.7Z" fill="#fff" />
<path d="M2124.7 205.7 L2136.5 204.7 L2148.4 204.1 L2160.2 203.7 L2172.0 203.4 L2183.9 203.2 L2195.7 203.2 L2207.6 203.3 L2219.4 203.6 L2231.2 204.0 L2243.1 204.4 L2254.9 205.0 L2266.8 206.1 L2266.8 206.1 L2254.9 207.0 L2243.1 207.3 L2231.2 207.5 L2219.4 207.6 L2207.6 207.7 L2195.7 207.6 L2183.9 207.5 L2172.0 207.5 L2160.2 207.3 L2148.4 207.0 L2136.5 206.6 L2124.7 205.7Z" fill="#fff" opacity="0.9774999999999999"/>
<path d="M2167.3 211.0 L2173.6 210.2 L2179.8 209.9 L2186.1 209.7 L2192.3 209.5 L2198.6 209.5 L2204.9 209.5 L2211.1 209.5 L2217.4 209.7 L2223.6 209.9 L2229.9 210.1 L2236.2 210.6 L2242.4 211.4 L2242.4 211.4 L2236.2 212.3 L2229.9 212.7 L2223.6 213.0 L2217.4 213.2 L2211.1 213.3 L2204.9 213.3 L2198.6 213.3 L2192.3 213.1 L2186.1 212.8 L2179.8 212.4 L2173.6 211.9 L2167.3 211.0Z" fill="#fff" opacity="0.9774999999999999"/>
<path d="M2287.1 211.8 L2343.9 208.6 L2455.6 207.6 L2455.6 216.5 L2343.9 215.3Z" fill="#fff" />
<path d="M2209.9 224.0 L2224.5 223.3 L2239.0 222.9 L2253.6 222.6 L2268.1 222.4 L2282.7 222.3 L2297.2 222.4 L2311.8 222.6 L2326.3 222.9 L2340.9 223.2 L2355.4 223.6 L2370.0 224.0 L2384.5 224.8 L2384.5 224.8 L2370.0 225.3 L2355.4 225.4 L2340.9 225.4 L2326.3 225.4 L2311.8 225.3 L2297.2 225.1 L2282.7 224.9 L2268.1 224.9 L2253.6 224.9 L2239.0 224.7 L2224.5 224.5 L2209.9 224.0Z" fill="#fff" opacity="0.575"/>
<path d="M2232.3 230.1 L2245.0 229.5 L2257.6 229.3 L2270.3 229.2 L2283.0 229.2 L2295.7 229.2 L2308.4 229.3 L2321.1 229.6 L2333.8 229.8 L2346.5 230.2 L2359.2 230.7 L2371.8 231.2 L2384.5 232.1 L2384.5 232.1 L2371.8 232.7 L2359.2 232.8 L2346.5 232.9 L2333.8 232.9 L2321.1 232.8 L2308.4 232.6 L2295.7 232.4 L2283.0 232.2 L2270.3 231.9 L2257.6 231.5 L2245.0 231.0 L2232.3 230.1Z" fill="#fff" opacity="0.8049999999999999"/>
<path d="M2181.5 230.5 C2191.7 230.9 2222.1 232.3 2242.4 232.9 C2262.7 233.6 2279.6 234.1 2303.3 234.6 C2327.0 235.1 2359.2 235.6 2384.5 236.0 C2409.9 236.3 2443.7 236.5 2455.6 236.6" fill="none" stroke="#00009f" stroke-width="3.8" />
<path d="M2124.7 241.5 C2137.5 241.7 2175.4 242.4 2201.8 243.1 C2228.2 243.8 2256.0 244.8 2283.0 245.5 C2310.1 246.3 2335.5 247.0 2364.2 247.6 C2393.0 248.1 2440.4 248.6 2455.6 248.8" fill="none" stroke="#00009f" stroke-width="5.6" />
<path d="M2130.8 248.2 C2146.0 248.7 2193.4 250.0 2222.1 251.2 C2250.9 252.4 2276.3 253.9 2303.3 255.3 C2330.4 256.6 2359.2 257.9 2384.5 259.3 C2409.9 260.7 2443.7 263.1 2455.6 263.8" fill="none" stroke="#00009f" stroke-width="5.6" />
<path d="M2100.3 251.2 C2110.5 252.6 2140.9 257.0 2161.2 259.3 C2181.5 261.7 2201.8 263.6 2222.1 265.4 C2242.4 267.3 2262.7 269.1 2283.0 270.5 C2303.3 271.8 2315.2 272.8 2343.9 273.5 C2372.7 274.3 2437.0 274.9 2455.6 275.2" fill="none" stroke="#00009f" stroke-width="8.1" />
<path d="M2075.9 251.2 C2086.8 252.9 2119.9 258.3 2140.9 261.4 C2161.9 264.4 2181.5 267.1 2201.8 269.5 C2222.1 271.8 2242.4 273.7 2262.7 275.6 C2283.0 277.4 2303.3 279.3 2323.6 280.6 C2343.9 282.0 2362.5 282.9 2384.5 283.7 C2406.5 284.5 2443.7 285.0 2455.6 285.3" fill="none" stroke="#00009f" stroke-width="10.6" />
<path d="M2262.7 278.2 L2278.8 278.3 L2294.9 278.7 L2310.9 279.1 L2327.0 279.6 L2343.1 280.1 L2359.2 280.4 L2375.2 280.6 L2391.3 280.9 L2407.4 281.3 L2423.4 281.7 L2439.5 282.2 L2455.6 282.9 L2455.6 282.9 L2439.5 283.1 L2423.4 283.1 L2407.4 283.1 L2391.3 283.0 L2375.2 282.8 L2359.2 282.6 L2343.1 282.3 L2327.0 281.6 L2310.9 280.9 L2294.9 280.1 L2278.8 279.3 L2262.7 278.2Z" fill="#fff" opacity="0.69"/>
</g>
<g clip-path="url(#cb)">
<rect x="1477" y="352.5" width="979" height="12" fill="#00009f" />
<rect x="1477" y="378.7" width="979" height="10" fill="#00009f" />
<rect x="1477" y="675" width="979" height="15.5" fill="#00009f" />
<rect x="1477" y="733.5" width="979" height="5" fill="#00009f" />
<rect x="1477" y="738.5" width="979" height="7" fill="#8080cc" />
<rect x="1477" y="745.5" width="979" height="4" fill="#00009f" />
<rect x="1477" y="786" width="979" height="17" fill="#00009f" />
<rect x="1477" y="803" width="979" height="5" fill="#8080cc" />
<rect x="1477" y="808" width="979" height="6" fill="#00009f" />
<rect x="1477" y="825.5" width="979" height="8.5" fill="#00009f" />
<rect x="1477" y="834" width="979" height="4" fill="#8080cc" />
<rect x="1477" y="838" width="979" height="9" fill="#00009f" />
<rect x="1477" y="847" width="979" height="4" fill="#8080cc" />
<rect x="1477" y="851" width="979" height="6" fill="#00009f" />
<rect x="1477" y="860.5" width="979" height="12.5" fill="#00009f" />
<rect x="1477" y="873" width="979" height="3.5" fill="#8080cc" />
<rect x="1477" y="876.5" width="979" height="3.5" fill="#00009f" />
<rect x="1477" y="741" width="240" height="3" fill="#fff" opacity=".8"/>
<rect x="2280" y="741" width="176" height="3" fill="#fff" opacity=".8"/>
</g>
<line x1="1586.5" y1="57" x2="1586.5" y2="879" stroke="#000" stroke-width="5.2" stroke-dasharray="17.5 11"/>
<line x1="1966" y1="57" x2="1966" y2="879" stroke="#000" stroke-width="5.2" stroke-dasharray="17.5 11"/>
<line x1="2079" y1="57" x2="2079" y2="879" stroke="#000" stroke-width="5.2" stroke-dasharray="17.5 11"/>
<line x1="1966.3" y1="410" x2="1966.3" y2="650" stroke="#00fa7d" stroke-width="6" />
<path d="M1966.3 380 L1957 415 L1975.5 415Z" fill="#00fa7d" />
<path d="M1966.3 678 L1957 645 L1975.5 645Z" fill="#00fa7d" />
<rect x="1474" y="52.5" width="985" height="830.5" fill="none" stroke="#000" stroke-width="7"/>
<line x1="1455.5" y1="882.9" x2="1474" y2="882.9" stroke="#000" stroke-width="7" />
<text x="1445.5" y="901.9" font-family='"Liberation Sans", sans-serif' font-size="64" text-anchor="end" fill="#000" >-2</text>
<line x1="1455.5" y1="675.3" x2="1474" y2="675.3" stroke="#000" stroke-width="7" />
<text x="1445.5" y="694.3" font-family='"Liberation Sans", sans-serif' font-size="64" text-anchor="end" fill="#000" >0</text>
<line x1="1455.5" y1="467.7" x2="1474" y2="467.7" stroke="#000" stroke-width="7" />
<text x="1445.5" y="486.7" font-family='"Liberation Sans", sans-serif' font-size="64" text-anchor="end" fill="#000" >2</text>
<line x1="1455.5" y1="260.1" x2="1474" y2="260.1" stroke="#000" stroke-width="7" />
<text x="1445.5" y="279.1" font-family='"Liberation Sans", sans-serif' font-size="64" text-anchor="end" fill="#000" >4</text>
<line x1="1455.5" y1="52.5" x2="1474" y2="52.5" stroke="#000" stroke-width="7" />
<text x="1445.5" y="71.5" font-family='"Liberation Sans", sans-serif' font-size="64" text-anchor="end" fill="#000" >6</text>
<line x1="1463" y1="779.1" x2="1474" y2="779.1" stroke="#000" stroke-width="7" />
<line x1="1463" y1="571.5" x2="1474" y2="571.5" stroke="#000" stroke-width="7" />
<line x1="1463" y1="363.9" x2="1474" y2="363.9" stroke="#000" stroke-width="7" />
<line x1="1463" y1="156.3" x2="1474" y2="156.3" stroke="#000" stroke-width="7" />
<text transform="translate(1366 470) rotate(-90)" font-family='"Liberation Sans", sans-serif' font-size="65" text-anchor="middle" fill="#000" >Energy (eV)</text>
<text x="1258" y="84" font-family='"Liberation Sans", sans-serif' font-size="84" text-anchor="start" fill="#000" >(b)</text>
<text x="1998" y="512.5" font-family='"Liberation Sans", sans-serif' font-size="74" fill="#000"><tspan font-style="italic">E</tspan><tspan font-size="46" dy="19.5">g</tspan><tspan dy="-19.5"> = 2.80 eV</tspan></text>
<text x="1475" y="944" font-family='"Liberation Serif", serif' font-size="61" text-anchor="middle" fill="#000" >Γ</text>
<text x="1588" y="944" font-family='"Liberation Serif", serif' font-size="61" text-anchor="middle" fill="#000" >Z</text>
<text transform="translate(1968.5 950) scale(0.62 1)" font-family='"Liberation Serif", serif' font-size="75" text-anchor="middle" fill="#000">D</text>
<text transform="translate(2077 950) scale(0.68 1)" font-family='"Liberation Serif", serif' font-size="75" text-anchor="middle" fill="#000">B</text>
<text x="2454.5" y="946" font-family='"Liberation Serif", serif' font-size="61" text-anchor="middle" fill="#000" >Γ</text>
<text x="1962" y="1013.5" font-family='"Liberation Sans", sans-serif' font-size="65" text-anchor="middle" fill="#000" >Band Structure</text>
<clipPath id="clipc"><rect x="240" y="1059" width="982.2" height="1263.6999999999998"/></clipPath>
<g clip-path="url(#clipc)">
<path d="M244.6 1160.1 L250.1 1154.3 L255 1138.1 L258.2 1139.7 L263 1154.3 L267.9 1157.5 L272.7 1151 L276 1134.9 L280.8 1131.7 L284 1130.1 L287.2 1139.7 L290.5 1152.6 L293.7 1149.4 L296.9 1126.8 L300.2 1110 L303.4 1113.9 L306.6 1136.5 L309.2 1154.3 L311.5 1149.4 L314.7 1123.6 L317.3 1109.1 L321.1 1113.3 L326 1117.1 L329.2 1116.5 L332.4 1123.6 L335.7 1133.3 L338.9 1139.7 L341.5 1152.6 L343.7 1160.1 L385.7 1160.1 L390.5 1152.6 L394.4 1138.1 L398.6 1141.3 L401.8 1152.6 L406.7 1159.1 L411.5 1160.1 L419.6 1160.1 L426 1157.5 L429.3 1146.2 L434.1 1139.7 L438.9 1128.4 L443.8 1126.8 L447 1117.1 L450.9 1110.7 L455.1 1118.8 L458.3 1128.4 L463.1 1122 L468 1115.5 L472.8 1102.6 L477 1096.2 L480.9 1104.2 L484.1 1113.9 L489 1120.4 L493.8 1126.8 L498.6 1139.7 L503.5 1136.5 L506.7 1146.2 L509.9 1157.5 L514.8 1160.7 L519.6 1157.5 L522.9 1143 L526.7 1123.6 L530.9 1118.8 L534.2 1123.6 L538.3 1136.5 L542.2 1152.6 L545.4 1160.1 L590.6 1160.1 L594.8 1146.2 L599.3 1133.3 L603.5 1143 L606.8 1160.1 L620 1160.1 L623.9 1149.4 L627.1 1133.3 L631.3 1126.2 L635.5 1131.7 L639.4 1136.5 L643.2 1146.2 L647.4 1160.1 L676.5 1160.1 L680.7 1149.4 L684.5 1136.5 L688.4 1133.9 L692.6 1141.3 L696.8 1160.1 L937.9 1160.1 L942.8 1152.6 L946 1133.3 L950.8 1123.6 L955.7 1130.1 L962.1 1132.6 L968.6 1130.1 L975 1131.7 L981.5 1128.4 L984.7 1136.5 L987.9 1154.3 L991.2 1152.6 L996 1134.9 L1002.5 1136.5 L1008.9 1138.1 L1012.1 1149.4 L1015.4 1159.1 L1023.4 1157.5 L1029.9 1152.6 L1036.3 1151 L1046 1154.3 L1055.7 1155.2 L1071.8 1155.9 L1088 1155.2 L1097.7 1152.6 L1104.1 1147.8 L1109 1144.6 L1117 1150.1 L1123.5 1146.2 L1129.9 1138.1 L1136.4 1141.3 L1142.9 1143 L1152.5 1141.3 L1159 1138.1 L1163.8 1133.3 L1168.7 1139.7 L1175.1 1143 L1183.2 1138.1 L1191.3 1134.9 L1197.7 1134.9 L1204.2 1128.4 L1210.6 1126.8 L1223.5 1131.7" fill="none" stroke="#000" stroke-width="8.5" stroke-linejoin="round" stroke-linecap="butt" />
<path d="M238.8 1160.1 L244.6 1160.1 L250.1 1165.6 L255 1181.7 L258.2 1180.1 L263 1165.6 L267.9 1162.3 L272.7 1172 L277.6 1183.3 L282.4 1188.1 L285.6 1184.9 L288.9 1168.8 L292.1 1165.6 L295.3 1184.9 L298.5 1204.3 L301.8 1209.1 L305 1191.4 L308.2 1165.6 L310.5 1168.8 L313.7 1197.8 L316.9 1209.1 L321.1 1204.3 L326 1201.1 L330.8 1193 L335.7 1188.1 L338.9 1178.5 L341.5 1165.6 L343.7 1160.1 L397 1160.1 L401.8 1168.8 L406 1183.3 L409.9 1178.5 L414.7 1165.6 L419.6 1160.1 L425.4 1160.1 L428.6 1172 L432.5 1180.1 L437.3 1176.9 L442.2 1168.8 L447 1178.5 L450.2 1172 L453.5 1168.8 L456.7 1191.4 L459.9 1210.7 L464.8 1215.6 L469.6 1197.8 L472.8 1193 L476.1 1214 L479.3 1231.7 L482.5 1223.7 L485.7 1201.1 L489 1184.9 L493.8 1183.3 L500.3 1188.1 L506.7 1184.9 L513.2 1181.7 L518 1172 L521.2 1165.6 L524.5 1172 L527.7 1188.1 L531.9 1201.1 L535.8 1194.6 L540.6 1181.7 L545.4 1165.6 L548.7 1160.1 L866.9 1160.1 L870.1 1175.2 L874.3 1188.1 L878.2 1175.2 L881.4 1160.1 L931.5 1160.1 L934.7 1175.2 L939.5 1188.1 L942.8 1191.4 L946 1217.2 L949.2 1230.8 L954 1223.7 L957.3 1204.3 L962.1 1191.4 L967 1184.9 L971.8 1180.1 L975 1181.7 L978.3 1189.8 L981.5 1191.4 L984.7 1172 L987.9 1159.1 L991.2 1162.3 L994.4 1181.7 L997.6 1186.5 L1002.5 1181.7 L1007.3 1183.3 L1011.2 1175.2 L1013.8 1160.1 L1033.1 1160.7 L1039.6 1167.2 L1046 1168.8 L1052.5 1163.9 L1065.4 1162.3 L1078.3 1160.7 L1094.4 1162.3 L1104.1 1168.8 L1109 1175.2 L1113.8 1173.6 L1120.3 1168.8 L1126.7 1172 L1131.6 1183.3 L1136.4 1181.7 L1142.9 1173.6 L1149.3 1170.4 L1155.8 1180.1 L1162.2 1186.5 L1168.7 1183.3 L1175.1 1180.1 L1181.6 1181.7 L1188 1176.9 L1194.5 1176.9 L1200.9 1184.9 L1209 1193 L1223.5 1188.1" fill="none" stroke="#ff0000" stroke-width="8.5" stroke-linejoin="round" stroke-linecap="butt" />
<path d="M429.3 1451.4 L434.1 1446.5 L438.9 1440.1 L447 1435.2 L451.8 1427.2 L456.7 1432 L461.5 1441.7 L474.4 1441 L484.1 1443.3 L503.5 1444.3 L513.2 1450.7" fill="none" stroke="#0280c4" stroke-width="8" stroke-linejoin="round" stroke-linecap="butt" />
<path d="M451.8 1456.2 L464.8 1458.5 L477.7 1459.8 L497 1458.5 L516.4 1457.2" fill="none" stroke="#0280c4" stroke-width="5" stroke-linejoin="round" stroke-linecap="butt" opacity=".8"/>
<path d="M588.1 1452.3 L591.3 1432 L594.5 1412.6 L599.3 1401.3 L603.5 1412.6 L606.8 1432 L610 1452.3" fill="none" stroke="#0280c4" stroke-width="8" stroke-linejoin="round" stroke-linecap="butt" />
<path d="M618.4 1452.3 L621.6 1425.6 L624.8 1406.2 L629 1395.9 L632.9 1401.3 L636.1 1412.6 L640 1415.9 L643.2 1428.8 L646.5 1441.7 L649 1452.3" fill="none" stroke="#0280c4" stroke-width="8" stroke-linejoin="round" stroke-linecap="butt" />
<path d="M678.1 1452.3 L682 1428.8 L686.2 1406.2 L689.4 1403.6 L692.6 1419.1 L695.8 1452.3" fill="none" stroke="#0280c4" stroke-width="8" stroke-linejoin="round" stroke-linecap="butt" />
<path d="M863.7 1452.3 L866.9 1483.7 L871.7 1506.2 L875 1512.7 L878.2 1496.6 L881.4 1470.7 L884 1452.3" fill="none" stroke="#0280c4" stroke-width="8" stroke-linejoin="round" stroke-linecap="butt" />
<path d="M929.2 1452.3 L932.4 1470.7 L936.3 1493.3 L940.2 1512.7 L943.4 1496.6 L946 1515.9 L949.2 1536.9 L953.1 1525.6 L957.3 1503 L961.5 1480.4 L965.3 1464.3 L968.6 1452.3" fill="none" stroke="#0280c4" stroke-width="8" stroke-linejoin="round" stroke-linecap="butt" />
<line x1="240" y1="1452.3" x2="1222" y2="1452.3" stroke="#ff952d" stroke-width="9" />
<path d="M400.2 1453 L407.3 1459.4 L414.7 1453" fill="none" stroke="#ff952d" stroke-width="7" stroke-linejoin="round" stroke-linecap="butt" />
<path d="M244.6 1704.9 L251.7 1701.7 L256.6 1695.9 L261.4 1701.7 L266.3 1704.9 L272.7 1695.2 L279.2 1689.4 L285.6 1693.6 L290.5 1701.7 L293.7 1679.1 L296.9 1656.5 L301.8 1650.1 L305 1663 L308.2 1692 L310.5 1698.5 L313.1 1656.5 L316.3 1630 L321.1 1634.6 L326 1631.3 L330.8 1634.6 L334 1653.3 L338.9 1666.2 L341.5 1692 L344.7 1704.9" fill="none" stroke="#ff952d" stroke-width="10" stroke-linejoin="round" stroke-linecap="butt" />
<path d="M244.6 1704.9 L251.7 1708.1 L256.6 1714 L261.4 1708.1 L266.3 1704.9 L272.7 1714.6 L279.2 1720.4 L285.6 1716.2 L290.5 1708.1 L293.7 1730.7 L296.9 1753.3 L301.8 1759.8 L305 1746.9 L308.2 1717.8 L310.5 1711.4 L313.1 1753.3 L316.3 1779.8 L321.1 1775.3 L326 1778.5 L330.8 1775.3 L334 1756.6 L338.9 1743.7 L341.5 1717.8 L344.7 1704.9" fill="none" stroke="#ff952d" stroke-width="10" stroke-linejoin="round" stroke-linecap="butt" />
<line x1="240" y1="1704.9" x2="1222" y2="1704.9" stroke="#ff952d" stroke-width="7.5" />
<path d="M1000 1701 L1222 1698 L1222 1711.5 L1000 1708.5Z" fill="#ff952d" />
<path d="M244.6 1955.9 L250.1 1948.5 L255 1925.9 L258.2 1927.5 L263 1942 L267.9 1948.5 L272.7 1932.3 L277.6 1919.4 L284 1911.3 L287.2 1922.6 L292.1 1945.2 L295.3 1922.6 L298.5 1883.9 L301.8 1872.6 L305 1890.4 L308.2 1935.6 L310.5 1938.8 L313.7 1896.8 L317.9 1864.5 L321.1 1869.4 L324.4 1880.7 L328.6 1877.5 L332.4 1896.8 L337.3 1906.5 L340.5 1929.1 L343.7 1955.9" fill="none" stroke="#005e03" stroke-width="8.8" stroke-linejoin="round" stroke-linecap="butt" />
<path d="M244.6 1955.9 L250.1 1963.3 L255 1985.9 L258.2 1984.3 L263 1969.8 L267.9 1963.3 L272.7 1979.4 L277.6 1992.4 L284 2000.4 L287.2 1989.1 L292.1 1966.5 L295.3 1989.1 L298.5 2027.9 L301.8 2039.2 L305 2021.4 L308.2 1976.2 L310.5 1973 L313.7 2015 L317.9 2047.2 L321.1 2042.4 L324.4 2031.1 L328.6 2034.3 L332.4 2015 L337.3 2005.3 L340.5 1982.7 L343.7 1955.9" fill="none" stroke="#005e03" stroke-width="8.8" stroke-linejoin="round" stroke-linecap="butt" />
<path d="M425.4 1955.9 L427.6 1942 L430.9 1930.7 L435.7 1933.9 L440.6 1929.1 L447 1924.3 L450.2 1932.3 L453.5 1942 L457.7 1919.4 L463.1 1911.3 L469.6 1906.5 L476.1 1898.4 L480.9 1901.7 L485.7 1919.4 L490.6 1932.3 L495.4 1943.6 L500.3 1946.9 L506.7 1950.1 L513.2 1955.9" fill="none" stroke="#005e03" stroke-width="8.8" stroke-linejoin="round" stroke-linecap="butt" />
<path d="M425.4 1955.9 L428.6 1971.1 L432.5 1982.4 L437.3 1979.1 L442.2 1980.7 L447 1985.6 L451.8 1977.5 L455.1 1980.7 L458.3 1996.9 L464.8 2001.7 L469.6 1993.7 L472.8 1987.2 L476.1 2006.6 L479.3 2024.3 L482.5 2019.5 L485.7 1993.7 L489 1971.1 L493.8 1964.6 L503.5 1961.4 L513.2 1958.1 L519.6 1955.9" fill="none" stroke="#005e03" stroke-width="8.8" stroke-linejoin="round" stroke-linecap="butt" />
<path d="M937.9 1955.9 L942.8 1929.1 L947.6 1906.5 L952.4 1903.3 L957.3 1911.3 L965.3 1916.2 L971.8 1914.6 L978.3 1908.1 L983.1 1911.3 L986.3 1935.6 L989.5 1942 L994.4 1919.4 L1000.8 1916.2 L1008.9 1921 L1012.1 1935.6 L1016.3 1955.9" fill="none" stroke="#005e03" stroke-width="8.8" stroke-linejoin="round" stroke-linecap="butt" />
<path d="M937.9 1955.9 L942.8 1982.7 L947.6 2005.3 L952.4 2008.5 L957.3 2000.4 L965.3 1995.6 L971.8 1997.2 L978.3 2003.7 L983.1 2000.4 L986.3 1976.2 L989.5 1969.8 L994.4 1992.4 L1000.8 1995.6 L1008.9 1990.7 L1012.1 1976.2 L1016.3 1955.9" fill="none" stroke="#005e03" stroke-width="8.8" stroke-linejoin="round" stroke-linecap="butt" />
<path d="M1094.4 1955.9 L1110.6 1949.1 L1136.4 1946.9 L1168.7 1942 L1194.5 1938.8 L1223.5 1930.7 L1223.5 1979.1 L1194.5 1972.7 L1168.7 1968.5 L1136.4 1965.2 L1110.6 1963Z" fill="#005e03" />
<line x1="240" y1="1955.9" x2="1222" y2="1955.9" stroke="#ff952d" stroke-width="8.5" />
<path d="M1023.4 1955.9 L1104.1 1951.7 L1223.5 1947.8 L1223.5 1963.3 L1104.1 1960.4Z" fill="#ff952d" />
<path d="M385.7 2191 L389.9 2165.9 L393.8 2152.3 L397.6 2156.2 L400.9 2175.6 L404.1 2191" fill="none" stroke="#005e03" stroke-width="8.8" stroke-linejoin="round" stroke-linecap="butt" />
<path d="M426 2191 L432.5 2182 L437.3 2169.1 L440.6 2153 L445.4 2154.6 L448.6 2133.6 L451.8 2124.6 L455.7 2130.4 L458.3 2153 L461.5 2172.3 L466.4 2165.9 L471.2 2153 L474.4 2140.1 L479.3 2143.3 L484.1 2148.1 L490.6 2143.9 L497 2151.3 L503.5 2159.4 L508.3 2175.6 L511.6 2191" fill="none" stroke="#005e03" stroke-width="8.8" stroke-linejoin="round" stroke-linecap="butt" />
<path d="M518 2191 L522.9 2162.6 L526.1 2123.9 L529.3 2102.9 L532.5 2101.3 L535.8 2114.2 L539 2136.8 L543.8 2169.1 L547.1 2191" fill="none" stroke="#005e03" stroke-width="8.8" stroke-linejoin="round" stroke-linecap="butt" />
<path d="M590.6 2191 L595.5 2175.6 L599.3 2170.7 L603.5 2177.2 L608.4 2191" fill="none" stroke="#005e03" stroke-width="8.8" stroke-linejoin="round" stroke-linecap="butt" />
<path d="M398.6 2191 L401.8 2211.1 L406 2232 L409.9 2228.8 L414.1 2207.8 L418 2191" fill="none" stroke="#005e03" stroke-width="8.8" stroke-linejoin="round" stroke-linecap="butt" />
<path d="M448.6 2191 L451.8 2207.8 L455.1 2227.2 L459.9 2241.7 L464.8 2246.6 L469.6 2230.4 L471.9 2214.3 L474.4 2233.7 L477.7 2251.4 L480.9 2246.6 L484.1 2232 L489 2224 L492.2 2233.7 L498.6 2244.9 L503.5 2243.3 L509.9 2233.7 L516.4 2220.7 L519.6 2207.8 L524.5 2233.7 L529.3 2265.9 L533.2 2283.7 L537.4 2265.9 L542.2 2240.1 L547.1 2214.3 L550.3 2191" fill="none" stroke="#005e03" stroke-width="8.8" stroke-linejoin="round" stroke-linecap="butt" />
<path d="M620 2191 L624.8 2175.6 L631.3 2164.3 L637.8 2172.3 L644.2 2191" fill="none" stroke="#005e03" stroke-width="8.8" stroke-linejoin="round" stroke-linecap="butt" />
<path d="M679.7 2191 L686.2 2177.2 L692.6 2191" fill="none" stroke="#005e03" stroke-width="8.8" stroke-linejoin="round" stroke-linecap="butt" />
<path d="M868.5 2191.7 L875 2202 L881.4 2191.7" fill="none" stroke="#005e03" stroke-width="6" stroke-linejoin="round" stroke-linecap="butt" />
<path d="M936.3 2191.7 L949.2 2204 L962.1 2191.7" fill="none" stroke="#005e03" stroke-width="6" stroke-linejoin="round" stroke-linecap="butt" />
<line x1="240" y1="2191" x2="1222" y2="2191" stroke="#ff952d" stroke-width="9" />
</g>
<line x1="695" y1="1091.3" x2="812" y2="1091.3" stroke="#000" stroke-width="8.8" />
<text x="825" y="1107.5" font-family='"Liberation Sans", sans-serif' font-size="50.6" fill="#000">Total DOS<tspan fill="#888">–</tspan>UP</text>
<line x1="695" y1="1282.4" x2="812" y2="1282.4" stroke="#ff0000" stroke-width="8.8" />
<text x="825" y="1298.5" font-family='"Liberation Sans", sans-serif' font-size="50.6" fill="#000">Total DOS<tspan fill="#888">–</tspan>Down</text>
<line x1="638.5" y1="1349.7" x2="775.5" y2="1349.7" stroke="#0280c4" stroke-width="8.8" />
<text x="789" y="1368" font-family='"Liberation Sans", sans-serif' font-size="56" text-anchor="start" fill="#000" >d</text>
<line x1="835" y1="1349.7" x2="973" y2="1349.7" stroke="#005e03" stroke-width="8.8" />
<text x="986" y="1368" font-family='"Liberation Sans", sans-serif' font-size="56" text-anchor="start" fill="#000" >p</text>
<line x1="1031" y1="1349.7" x2="1168" y2="1349.7" stroke="#ff952d" stroke-width="8.8" />
<text x="1181.5" y="1368" font-family='"Liberation Sans", sans-serif' font-size="56" text-anchor="start" fill="#000" >s</text>
<line x1="1031" y1="1599" x2="1168" y2="1599" stroke="#ff952d" stroke-width="8.8" />
<text x="1181.5" y="1617.8" font-family='"Liberation Sans", sans-serif' font-size="56" text-anchor="start" fill="#000" >s</text>
<line x1="835.5" y1="1853.3" x2="971" y2="1853.3" stroke="#005e03" stroke-width="8.8" />
<text x="986" y="1870" font-family='"Liberation Sans", sans-serif' font-size="56" text-anchor="start" fill="#000" >p</text>
<line x1="1031" y1="1853.3" x2="1168" y2="1853.3" stroke="#ff952d" stroke-width="8.8" />
<text x="1181.5" y="1870" font-family='"Liberation Sans", sans-serif' font-size="56" text-anchor="start" fill="#000" >s</text>
<line x1="832.5" y1="2111.7" x2="969" y2="2111.7" stroke="#005e03" stroke-width="8.8" />
<text x="983" y="2127.5" font-family='"Liberation Sans", sans-serif' font-size="56" text-anchor="start" fill="#000" >p</text>
<line x1="1027.5" y1="2111.7" x2="1165" y2="2111.7" stroke="#ff952d" stroke-width="8.8" />
<text x="1178.5" y="2127.5" font-family='"Liberation Sans", sans-serif' font-size="56" text-anchor="start" fill="#000" >s</text>
<text x="252" y="1372.3" font-family='"Liberation Sans", sans-serif' font-size="57" text-anchor="start" fill="#000" >Mn</text>
<text x="259" y="1626.5" font-family='"Liberation Sans", sans-serif' font-size="57" text-anchor="start" fill="#000" >H</text>
<text x="259" y="1871.6" font-family='"Liberation Sans", sans-serif' font-size="57" text-anchor="start" fill="#000" >C</text>
<text x="255" y="2135.2" font-family='"Liberation Sans", sans-serif' font-size="57" text-anchor="start" fill="#000" >Br</text>
<text transform="translate(804 1693) rotate(-90)" font-family='"Liberation Sans", sans-serif' font-size="67" text-anchor="middle" fill="#000" >2.54 eV</text>
<text transform="translate(807.5 1845) rotate(-90)" font-family='"Liberation Sans", sans-serif' font-size="58" text-anchor="middle" fill="#000">~</text>
<line x1="697" y1="1063" x2="697" y2="2318.7" stroke="#000" stroke-width="6.5" stroke-dasharray="14.5 11.3" stroke-dashoffset="0"/>
<line x1="864" y1="1063" x2="864" y2="2318.7" stroke="#000" stroke-width="6.5" stroke-dasharray="14.5 11.3" stroke-dashoffset="0"/>
<rect x="240" y="1059" width="982.2" height="1263.6999999999998" fill="none" stroke="#000" stroke-width="9"/>
<line x1="240" y1="1311.5" x2="1222.2" y2="1311.5" stroke="#000" stroke-width="9.2" />
<line x1="240" y1="1565" x2="1222.2" y2="1565" stroke="#000" stroke-width="9.2" />
<line x1="240" y1="1817.4" x2="1222.2" y2="1817.4" stroke="#000" stroke-width="9.2" />
<line x1="240" y1="2069.5" x2="1222.2" y2="2069.5" stroke="#000" stroke-width="9.2" />
<line x1="219.5" y1="1096.2" x2="240" y2="1096.2" stroke="#000" stroke-width="8" />
<text x="213.5" y="1104.2" font-family='"Liberation Sans", sans-serif' font-size="56" text-anchor="end" fill="#000" >25</text>
<line x1="219.5" y1="1160" x2="240" y2="1160" stroke="#000" stroke-width="8" />
<text x="213.5" y="1168" font-family='"Liberation Sans", sans-serif' font-size="56" text-anchor="end" fill="#000" >0</text>
<line x1="219.5" y1="1223.6" x2="240" y2="1223.6" stroke="#000" stroke-width="8" />
<text x="213.5" y="1231.6" font-family='"Liberation Sans", sans-serif' font-size="56" text-anchor="end" fill="#000" >-25</text>
<line x1="219.5" y1="1287.2" x2="240" y2="1287.2" stroke="#000" stroke-width="8" />
<text x="213.5" y="1295.2" font-family='"Liberation Sans", sans-serif' font-size="56" text-anchor="end" fill="#000" >-50</text>
<line x1="227.5" y1="1064.4" x2="240" y2="1064.4" stroke="#000" stroke-width="8" />
<line x1="227.5" y1="1128" x2="240" y2="1128" stroke="#000" stroke-width="8" />
<line x1="227.5" y1="1191.8" x2="240" y2="1191.8" stroke="#000" stroke-width="8" />
<line x1="227.5" y1="1255.4" x2="240" y2="1255.4" stroke="#000" stroke-width="8" />
<line x1="219.5" y1="1325.5" x2="240" y2="1325.5" stroke="#000" stroke-width="8" />
<text x="213.5" y="1353.5" font-family='"Liberation Sans", sans-serif' font-size="56" text-anchor="end" fill="#000" >18</text>
<line x1="219.5" y1="1389.1" x2="240" y2="1389.1" stroke="#000" stroke-width="8" />
<text x="213.5" y="1417.1" font-family='"Liberation Sans", sans-serif' font-size="56" text-anchor="end" fill="#000" >9</text>
<line x1="219.5" y1="1452.3" x2="240" y2="1452.3" stroke="#000" stroke-width="8" />
<text x="213.5" y="1480.3" font-family='"Liberation Sans", sans-serif' font-size="56" text-anchor="end" fill="#000" >0</text>
<line x1="219.5" y1="1515.3" x2="240" y2="1515.3" stroke="#000" stroke-width="8" />
<text x="213.5" y="1543.3" font-family='"Liberation Sans", sans-serif' font-size="56" text-anchor="end" fill="#000" >-9</text>
<line x1="227.5" y1="1357.3" x2="240" y2="1357.3" stroke="#000" stroke-width="8" />
<line x1="227.5" y1="1420.7" x2="240" y2="1420.7" stroke="#000" stroke-width="8" />
<line x1="227.5" y1="1483.8" x2="240" y2="1483.8" stroke="#000" stroke-width="8" />
<line x1="227.5" y1="1547" x2="240" y2="1547" stroke="#000" stroke-width="8" />
<line x1="219.5" y1="1577.4" x2="240" y2="1577.4" stroke="#000" stroke-width="8" />
<text x="213.5" y="1601.4" font-family='"Liberation Sans", sans-serif' font-size="56" text-anchor="end" fill="#000" >6.6</text>
<line x1="219.5" y1="1641.3" x2="240" y2="1641.3" stroke="#000" stroke-width="8" />
<text x="213.5" y="1665.3" font-family='"Liberation Sans", sans-serif' font-size="56" text-anchor="end" fill="#000" >3.3</text>
<line x1="219.5" y1="1704.9" x2="240" y2="1704.9" stroke="#000" stroke-width="8" />
<text x="213.5" y="1728.9" font-family='"Liberation Sans", sans-serif' font-size="56" text-anchor="end" fill="#000" >0.0</text>
<line x1="219.5" y1="1769.5" x2="240" y2="1769.5" stroke="#000" stroke-width="8" />
<text x="213.5" y="1793.5" font-family='"Liberation Sans", sans-serif' font-size="56" text-anchor="end" fill="#000" >-3.3</text>
<line x1="227.5" y1="1609.3" x2="240" y2="1609.3" stroke="#000" stroke-width="8" />
<line x1="227.5" y1="1673" x2="240" y2="1673" stroke="#000" stroke-width="8" />
<line x1="227.5" y1="1737" x2="240" y2="1737" stroke="#000" stroke-width="8" />
<line x1="227.5" y1="1801" x2="240" y2="1801" stroke="#000" stroke-width="8" />
<line x1="219.5" y1="1828.4" x2="240" y2="1828.4" stroke="#000" stroke-width="8" />
<text x="213.5" y="1848.4" font-family='"Liberation Sans", sans-serif' font-size="56" text-anchor="end" fill="#000" >15.6</text>
<line x1="219.5" y1="1892" x2="240" y2="1892" stroke="#000" stroke-width="8" />
<text x="213.5" y="1912" font-family='"Liberation Sans", sans-serif' font-size="56" text-anchor="end" fill="#000" >7.8</text>
<line x1="219.5" y1="1955.9" x2="240" y2="1955.9" stroke="#000" stroke-width="8" />
<text x="213.5" y="1975.9" font-family='"Liberation Sans", sans-serif' font-size="56" text-anchor="end" fill="#000" >0.0</text>
<line x1="219.5" y1="2019.5" x2="240" y2="2019.5" stroke="#000" stroke-width="8" />
<text x="213.5" y="2039.5" font-family='"Liberation Sans", sans-serif' font-size="56" text-anchor="end" fill="#000" >-7.8</text>
<line x1="227.5" y1="1860" x2="240" y2="1860" stroke="#000" stroke-width="8" />
<line x1="227.5" y1="1924" x2="240" y2="1924" stroke="#000" stroke-width="8" />
<line x1="227.5" y1="1987.7" x2="240" y2="1987.7" stroke="#000" stroke-width="8" />
<line x1="227.5" y1="2051" x2="240" y2="2051" stroke="#000" stroke-width="8" />
<line x1="219.5" y1="2127.8" x2="240" y2="2127.8" stroke="#000" stroke-width="8" />
<text x="213.5" y="2143.8" font-family='"Liberation Sans", sans-serif' font-size="56" text-anchor="end" fill="#000" >6.3</text>
<line x1="219.5" y1="2191" x2="240" y2="2191" stroke="#000" stroke-width="8" />
<text x="213.5" y="2207" font-family='"Liberation Sans", sans-serif' font-size="56" text-anchor="end" fill="#000" >0.0</text>
<line x1="219.5" y1="2254.6" x2="240" y2="2254.6" stroke="#000" stroke-width="8" />
<text x="213.5" y="2270.6" font-family='"Liberation Sans", sans-serif' font-size="56" text-anchor="end" fill="#000" >-6.3</text>
<line x1="219.5" y1="2318.2" x2="240" y2="2318.2" stroke="#000" stroke-width="8" />
<text x="213.5" y="2334.2" font-family='"Liberation Sans", sans-serif' font-size="56" text-anchor="end" fill="#000" >-12.6</text>
<line x1="227.5" y1="2095.3" x2="240" y2="2095.3" stroke="#000" stroke-width="8" />
<line x1="227.5" y1="2159.4" x2="240" y2="2159.4" stroke="#000" stroke-width="8" />
<line x1="227.5" y1="2222.8" x2="240" y2="2222.8" stroke="#000" stroke-width="8" />
<line x1="227.5" y1="2286.4" x2="240" y2="2286.4" stroke="#000" stroke-width="8" />
<line x1="304.4" y1="2322.7" x2="304.4" y2="2341.7" stroke="#000" stroke-width="8.5" />
<text x="303.4" y="2392.5" font-family='"Liberation Sans", sans-serif' font-size="56" text-anchor="middle" fill="#000" >-6</text>
<line x1="435.4" y1="2322.7" x2="435.4" y2="2341.7" stroke="#000" stroke-width="8.5" />
<text x="434.4" y="2392.5" font-family='"Liberation Sans", sans-serif' font-size="56" text-anchor="middle" fill="#000" >-4</text>
<line x1="566.4" y1="2322.7" x2="566.4" y2="2341.7" stroke="#000" stroke-width="8.5" />
<text x="565.4" y="2392.5" font-family='"Liberation Sans", sans-serif' font-size="56" text-anchor="middle" fill="#000" >-2</text>
<line x1="697.4" y1="2322.7" x2="697.4" y2="2341.7" stroke="#000" stroke-width="8.5" />
<text x="697.4" y="2392.5" font-family='"Liberation Sans", sans-serif' font-size="56" text-anchor="middle" fill="#000" >0</text>
<line x1="828.4" y1="2322.7" x2="828.4" y2="2341.7" stroke="#000" stroke-width="8.5" />
<text x="828.4" y="2392.5" font-family='"Liberation Sans", sans-serif' font-size="56" text-anchor="middle" fill="#000" >2</text>
<line x1="959.4" y1="2322.7" x2="959.4" y2="2341.7" stroke="#000" stroke-width="8.5" />
<text x="959.4" y="2392.5" font-family='"Liberation Sans", sans-serif' font-size="56" text-anchor="middle" fill="#000" >4</text>
<line x1="1090.4" y1="2322.7" x2="1090.4" y2="2341.7" stroke="#000" stroke-width="8.5" />
<text x="1090.4" y="2392.5" font-family='"Liberation Sans", sans-serif' font-size="56" text-anchor="middle" fill="#000" >6</text>
<line x1="1221.4" y1="2322.7" x2="1221.4" y2="2341.7" stroke="#000" stroke-width="8.5" />
<text x="1221.4" y="2392.5" font-family='"Liberation Sans", sans-serif' font-size="56" text-anchor="middle" fill="#000" >8</text>
<line x1="238.9" y1="2322.7" x2="238.9" y2="2335.2" stroke="#000" stroke-width="8" />
<line x1="369.9" y1="2322.7" x2="369.9" y2="2335.2" stroke="#000" stroke-width="8" />
<line x1="500.9" y1="2322.7" x2="500.9" y2="2335.2" stroke="#000" stroke-width="8" />
<line x1="631.9" y1="2322.7" x2="631.9" y2="2335.2" stroke="#000" stroke-width="8" />
<line x1="762.9" y1="2322.7" x2="762.9" y2="2335.2" stroke="#000" stroke-width="8" />
<line x1="893.9" y1="2322.7" x2="893.9" y2="2335.2" stroke="#000" stroke-width="8" />
<line x1="1024.9" y1="2322.7" x2="1024.9" y2="2335.2" stroke="#000" stroke-width="8" />
<line x1="1155.9" y1="2322.7" x2="1155.9" y2="2335.2" stroke="#000" stroke-width="8" />
<text x="729.7" y="2459.3" font-family='"Liberation Sans", sans-serif' font-size="67.5" text-anchor="middle" fill="#000" >Energy (eV)</text>
<text transform="translate(84.5 1671) rotate(-90)" font-family='"Liberation Sans", sans-serif' font-size="59" text-anchor="middle" fill="#000" >DOS (States/eV)</text>
<text x="23" y="1110" font-family='"Liberation Sans", sans-serif' font-size="84" text-anchor="start" fill="#000" >(c)</text>
<clipPath id="clipd"><rect x="1469.2" y="1047.8" width="988.3999999999999" height="1266.6000000000001"/></clipPath>
<g clip-path="url(#clipd)">
<path d="M1474 1173.6 L1480.4 1172 L1485.3 1159.1 L1488.5 1147.8 L1493.4 1152.6 L1496.6 1159.1 L1499.8 1146.2 L1504.7 1136.5 L1509.5 1138.1 L1514.3 1144.6 L1517.6 1136.5 L1522.4 1122 L1526.6 1120.4 L1530.5 1133.3 L1535.3 1146.2 L1540.2 1154.3 L1543.4 1139.7 L1548.2 1123.6 L1553.1 1125.2 L1557.9 1130.1 L1562.8 1136.5 L1569.2 1141.3 L1574 1143 L1577.3 1126.8 L1582.1 1110.7 L1585.3 1112.3 L1588.6 1123.6 L1591.8 1143 L1595 1159.1 L1598.3 1173.6 L1611.2 1173.6 L1614.4 1159.1 L1619.2 1133.3 L1623.1 1125.2 L1627.3 1136.5 L1630.5 1159.1 L1633.8 1173.6 L1649.9 1173.6 L1654.7 1165.6 L1659.6 1143 L1664.4 1123.6 L1668.6 1120.4 L1672.5 1133.3 L1675.7 1155.9 L1678.9 1172 L1685.4 1173.6 L1714.4 1173.6 L1719.3 1159.1 L1724.1 1146.2 L1729 1141.3 L1733.8 1126.8 L1737 1122 L1740.9 1130.1 L1743.5 1149.4 L1746.7 1168.8 L1749.9 1173.6 L1775.8 1173.6 L1780.6 1159.1 L1785.4 1144.6 L1791.9 1141.3 L1798.4 1146.2 L1803.2 1162.3 L1806.4 1173.6 L1833.9 1173.6 L1838.7 1152.6 L1843.5 1126.8 L1848.4 1118.8 L1853.2 1126.8 L1858.1 1152.6 L1862.9 1173.6 L1869.7 1173.9 L2115.4 1173.9 L2122.5 1172.2 L2167.1 1172.2 L2218.8 1169 L2228.5 1167.4 L2238.2 1170.6 L2247.9 1167.4 L2259.2 1162.5 L2267.3 1169 L2280.3 1169 L2289.9 1164.2 L2296.4 1162.5 L2306.1 1167.4 L2315.8 1165.8 L2322.3 1156.1 L2328.7 1151.2 L2335.2 1154.5 L2341.7 1162.5 L2348.1 1165.8 L2357.8 1160.9 L2367.5 1157.7 L2377.2 1156.1 L2383.7 1152.8 L2393.4 1157.7 L2399.9 1151.2 L2406.3 1144.8 L2412.8 1152.8 L2422.5 1159.3 L2429 1152.8 L2435.4 1144.8 L2441.9 1141.5 L2448.4 1146.4 L2458 1162.5" fill="none" stroke="#000" stroke-width="8.5" stroke-linejoin="round" stroke-linecap="butt" />
<path d="M1465.9 1173.6 L1474 1173.6 L1482.1 1175.2 L1486.9 1184.9 L1491.7 1201.1 L1495 1197.8 L1498.2 1184.9 L1501.4 1183.3 L1504.7 1197.8 L1509.5 1214 L1516 1223.7 L1522.4 1226.9 L1527.2 1223.7 L1530.5 1204.3 L1533.7 1184.9 L1537.6 1180.1 L1541.8 1194.6 L1545 1217.2 L1548.2 1220.4 L1551.5 1215.6 L1556.3 1214 L1561.1 1220.4 L1566 1225.3 L1570.8 1222 L1574 1204.3 L1577.3 1188.1 L1580.5 1183.3 L1583.7 1191.4 L1587 1199.4 L1590.2 1191.4 L1593.4 1178.5 L1596.6 1173.6 L1627.3 1173.6 L1632.1 1178.5 L1635.4 1194.6 L1640.2 1205.9 L1646.7 1209.1 L1653.1 1207.5 L1658 1194.6 L1661.2 1178.5 L1666 1173.6 L1670.9 1181.7 L1674.1 1194.6 L1678.9 1197.8 L1685.4 1204.3 L1691.8 1210.7 L1698.3 1214 L1704.8 1207.5 L1709.6 1191.4 L1714.4 1176.9 L1720.9 1173.6 L1727.4 1175.2 L1732.2 1191.4 L1737 1214 L1741.9 1226.9 L1746.7 1228.5 L1751.6 1210.7 L1754.8 1178.5 L1758 1173.6 L1860 1173.9 L2118.6 1173.9 L2123.5 1185.2 L2126.7 1211 L2131.5 1220.7 L2136.4 1211 L2139.6 1185.2 L2142.9 1175.5 L2146.1 1175.5 L2149.3 1198.1 L2152.6 1230.4 L2156.8 1245 L2160.6 1230.4 L2163.9 1198.1 L2167.1 1175.5 L2170.3 1173.9 L2218.8 1173.9 L2225.3 1177.1 L2233.4 1180.3 L2241.5 1177.1 L2251.2 1175.5 L2259.2 1181.9 L2265.7 1186.8 L2272.2 1180.3 L2280.3 1177.1 L2293.2 1177.1 L2302.9 1181.9 L2315.8 1183.6 L2322.3 1191.6 L2328.7 1194.9 L2338.4 1190 L2351.4 1183.6 L2361.1 1186.8 L2370.8 1190 L2377.2 1188.4 L2385.3 1196.5 L2393.4 1190 L2399.9 1188.4 L2409.6 1196.5 L2419.3 1190 L2429 1193.3 L2438.7 1201.3 L2448.4 1202.9 L2458 1196.5" fill="none" stroke="#ff0000" stroke-width="8.5" stroke-linejoin="round" stroke-linecap="butt" />
<path d="M1570.8 1441.4 L1574 1431.7 L1577.3 1423.6 L1583.7 1415.6 L1590.2 1423.6 L1595 1433.3 L1599.9 1441.4" fill="none" stroke="#0280c4" stroke-width="8" stroke-linejoin="round" stroke-linecap="butt" />
<path d="M1611.8 1441.4 L1615 1431.7 L1618.3 1422 L1623.1 1416.2 L1627.3 1423.6 L1631.2 1434.9 L1633.8 1441.4" fill="none" stroke="#0280c4" stroke-width="8" stroke-linejoin="round" stroke-linecap="butt" />
<path d="M1776.4 1441.4 L1779.6 1431.7 L1783.8 1423.6 L1788.7 1419.4 L1796.7 1420.4 L1801.6 1426.9 L1805.5 1441.4" fill="none" stroke="#0280c4" stroke-width="8" stroke-linejoin="round" stroke-linecap="butt" />
<path d="M1833.2 1441.4 L1837.1 1425.2 L1841 1412.3 L1846.1 1406.5 L1850.6 1406.5 L1854.8 1417.2 L1858.1 1431.7 L1861.3 1441.4" fill="none" stroke="#0280c4" stroke-width="8" stroke-linejoin="round" stroke-linecap="butt" />
<path d="M1656.3 1438.8 L1667.6 1435.6 L1678.9 1439.4" fill="none" stroke="#3a8a6a" stroke-width="5" stroke-linejoin="round" stroke-linecap="butt" />
<path d="M2121.2 1441.6 L2123.5 1454.6 L2126.7 1474 L2133.2 1493.4 L2138 1486.9 L2141.9 1464.3 L2145.1 1454.6 L2149.3 1474 L2154.2 1506.3 L2158.1 1513.4 L2162.3 1499.8 L2166.5 1467.5 L2170.3 1441.6" fill="none" stroke="#0280c4" stroke-width="8" stroke-linejoin="round" stroke-linecap="butt" />
<line x1="1469" y1="1441.5" x2="2458" y2="1441.5" stroke="#ff952d" stroke-width="9" />
<path d="M1474 1697.8 L1482.1 1696.2 L1486.9 1681.7 L1490.1 1672 L1495 1676.9 L1498.2 1681.7 L1501.4 1668.8 L1506.3 1657.5 L1511.1 1659.1 L1514.3 1662.3 L1519.2 1649.4 L1524 1643 L1528.9 1649.4 L1532.1 1662.3 L1536.9 1675.2 L1540.8 1680.1 L1545 1665.6 L1548.2 1651 L1553.1 1649.4 L1557.9 1659.1 L1562.8 1668.8 L1569.2 1673.6 L1574 1678.5 L1578.9 1681.7 L1585.3 1680.1 L1590.2 1684.9 L1595 1691.4 L1598.3 1697.8" fill="none" stroke="#ff952d" stroke-width="9.5" stroke-linejoin="round" stroke-linecap="butt" />
<path d="M1474 1697.8 L1482.1 1699.4 L1486.9 1710.7 L1491.7 1723.7 L1496.6 1720.4 L1499.8 1710.7 L1503 1714 L1506.3 1730.1 L1511.1 1746.2 L1516 1752.7 L1522.4 1752.7 L1527.2 1749.5 L1530.5 1736.6 L1533.7 1717.2 L1537.6 1707.5 L1541.8 1717.2 L1545 1736.6 L1548.2 1744.6 L1551.5 1739.8 L1556.3 1730.1 L1562.8 1728.5 L1569.2 1726.9 L1572.4 1720.4 L1575.7 1710.7 L1578.9 1705.9 L1582.1 1710.7 L1587 1715.6 L1590.2 1710.7 L1593.4 1701.1 L1596.6 1697.8" fill="none" stroke="#ff952d" stroke-width="9.5" stroke-linejoin="round" stroke-linecap="butt" />
<line x1="1469" y1="1698" x2="2458" y2="1698" stroke="#ff952d" stroke-width="8" />
<path d="M2220 1694 L2458 1691 L2458 1706 L2220 1702Z" fill="#ff952d" />
<path d="M1474 1950.1 L1482.1 1947.8 L1486.9 1931.7 L1491.1 1920.4 L1495 1926.9 L1498.2 1931.7 L1502.1 1922 L1506.3 1915.6 L1512.7 1913.9 L1516 1905.9 L1520.1 1889.7 L1524.7 1882.6 L1528.9 1893 L1532.1 1912.3 L1536.3 1925.2 L1540.8 1931.7 L1545 1909.1 L1548.2 1889.7 L1552.4 1884.9 L1557.9 1888.1 L1562.8 1897.8 L1567.6 1904.3 L1572.4 1909.1 L1577.3 1922 L1582.1 1923.6 L1587 1922 L1591.8 1928.5 L1596.6 1941.4 L1599.9 1950.1" fill="none" stroke="#005e03" stroke-width="8.8" stroke-linejoin="round" stroke-linecap="butt" />
<path d="M1474 1950.1 L1483.7 1952.7 L1488.5 1970.4 L1493.4 1984.9 L1497.6 1976.9 L1500.8 1964 L1504.7 1967.2 L1509.5 1983.3 L1516 2002.7 L1520.8 2014 L1524.7 2018.8 L1528.9 2014 L1532.1 1996.2 L1535.3 1970.4 L1538.5 1959.1 L1541.8 1973.7 L1545 1999.5 L1548.2 2010.8 L1553.1 2009.2 L1559.5 2004.3 L1566 2002.7 L1570.8 2007.5 L1574 1999.5 L1577.3 1976.9 L1580.5 1964 L1583.7 1973.7 L1587.9 1988.2 L1591.8 1976.9 L1595 1960.7 L1598.3 1950.1" fill="none" stroke="#005e03" stroke-width="8.8" stroke-linejoin="round" stroke-linecap="butt" />
<path d="M1612.8 1947.8 L1622.5 1944 L1632.1 1947.8" fill="none" stroke="#005e03" stroke-width="5" stroke-linejoin="round" stroke-linecap="butt" opacity=".7"/>
<path d="M1659.6 1947.8 L1669.3 1944 L1678.9 1947.8" fill="none" stroke="#005e03" stroke-width="5" stroke-linejoin="round" stroke-linecap="butt" opacity=".7"/>
<path d="M1724.1 1947.8 L1733.8 1944 L1743.5 1947.8" fill="none" stroke="#005e03" stroke-width="5" stroke-linejoin="round" stroke-linecap="butt" opacity=".7"/>
<path d="M1782.2 1947.8 L1791.9 1944 L1801.6 1947.8" fill="none" stroke="#005e03" stroke-width="5" stroke-linejoin="round" stroke-linecap="butt" opacity=".7"/>
<path d="M1837.1 1947.8 L1846.8 1944 L1856.5 1947.8" fill="none" stroke="#005e03" stroke-width="5" stroke-linejoin="round" stroke-linecap="butt" opacity=".7"/>
<path d="M1633.8 1953 L1646.7 1956.2 L1659.6 1953" fill="none" stroke="#005e03" stroke-width="5" stroke-linejoin="round" stroke-linecap="butt" opacity=".7"/>
<path d="M1685.4 1953 L1698.3 1956.2 L1711.2 1953" fill="none" stroke="#005e03" stroke-width="5" stroke-linejoin="round" stroke-linecap="butt" opacity=".7"/>
<path d="M1730.6 1953 L1743.5 1956.2 L1756.4 1953" fill="none" stroke="#005e03" stroke-width="5" stroke-linejoin="round" stroke-linecap="butt" opacity=".7"/>
<path d="M2215.6 1950.4 L2312.6 1943.3 L2377.2 1941.6 L2441.9 1936.8 L2458 1936.8 L2458 1964.3 L2441.9 1963.6 L2377.2 1959.4 L2312.6 1957.2Z" fill="#005e03" />
<line x1="1469" y1="1950.2" x2="2458" y2="1950.2" stroke="#ff952d" stroke-width="9" />
<path d="M2215.6 1950.4 L2328.7 1944.9 L2458 1941.6 L2458 1958.8 L2328.7 1955.5Z" fill="#ff952d" />
<path d="M1474 2173 L1488.5 2168.8 L1498.2 2165.6 L1504.7 2161.7 L1511.1 2167.2 L1520.8 2167.2 L1530.5 2163 L1536.9 2161.7 L1543.4 2165.6 L1556.3 2167.2 L1569.2 2165.6 L1575.7 2149.4 L1580.5 2133.3 L1584.7 2128.4 L1588.6 2136.5 L1593.4 2152.6 L1598.3 2165.6 L1603.1 2173 L1611.2 2173 L1616 2155.9 L1620.8 2138.1 L1624.1 2135.9 L1627.3 2146.2 L1632.1 2165.6 L1635.4 2173 L1649.9 2173 L1654.7 2159.1 L1659.6 2133.3 L1664.4 2110.7 L1668.6 2105.8 L1672.5 2117.1 L1675.7 2139.7 L1678.9 2162.3 L1682.2 2173 L1714.4 2173 L1719.3 2159.1 L1724.1 2136.5 L1729 2128.4 L1732.2 2120.4 L1735.4 2094.6 L1738.6 2089.7 L1741.9 2101 L1745.1 2126.8 L1748.3 2155.9 L1751.6 2173 L1777.4 2173 L1782.2 2159.1 L1788.7 2148.8 L1795.1 2147.8 L1801.6 2159.1 L1806.4 2173 L1832.2 2173 L1837.1 2155.9 L1843.5 2133.3 L1848.4 2128.4 L1853.2 2136.5 L1859.7 2159.1 L1864.5 2173" fill="none" stroke="#005e03" stroke-width="8.8" stroke-linejoin="round" stroke-linecap="butt" />
<path d="M1474 2173 L1491.7 2174.6 L1504.7 2176.9 L1514.3 2180.1 L1524 2176.9 L1540.2 2176.9 L1549.8 2178.5 L1556.3 2180.1 L1561.1 2188.1 L1566 2193 L1570.8 2188.1 L1577.3 2178.5 L1585.3 2176.9 L1595 2175.2 L1627.3 2173 L1630.5 2181.7 L1635.4 2201.1 L1640.2 2217.2 L1646.7 2223 L1653.1 2223.7 L1658 2214 L1661.2 2191.4 L1665.4 2175.2 L1669.3 2181.7 L1672.5 2197.8 L1677.3 2205.9 L1682.2 2207.5 L1687 2215.6 L1691.8 2223.7 L1696.7 2230.1 L1703.1 2223.7 L1709.6 2214 L1714.4 2191.4 L1717.7 2173 L1727.4 2173 L1732.2 2197.8 L1737 2223.7 L1741.9 2249.5 L1746.7 2260.8 L1750.6 2249.5 L1754.8 2210.7 L1758 2181.7 L1760.3 2173" fill="none" stroke="#005e03" stroke-width="8.8" stroke-linejoin="round" stroke-linecap="butt" />
<path d="M2125.1 2175.5 L2133.2 2181.3 L2141.2 2176.1" fill="none" stroke="#005e03" stroke-width="6" stroke-linejoin="round" stroke-linecap="butt" />
<path d="M2147.7 2176.1 L2157.4 2185.8 L2167.1 2176.1" fill="none" stroke="#005e03" stroke-width="6" stroke-linejoin="round" stroke-linecap="butt" />
<line x1="1469" y1="2173" x2="2458" y2="2173" stroke="#ff952d" stroke-width="9" />
</g>
<line x1="1935.5" y1="1081" x2="2052.5" y2="1081" stroke="#000" stroke-width="8.8" />
<text x="2065.5" y="1098" font-family='"Liberation Sans", sans-serif' font-size="50.6" fill="#000">Total DOS<tspan fill="#888">–</tspan>UP</text>
<line x1="1937.5" y1="1270.8" x2="2054.5" y2="1270.8" stroke="#ff0000" stroke-width="8.8" />
<text x="2068" y="1288.6" font-family='"Liberation Sans", sans-serif' font-size="50.6" fill="#000">Total DOS<tspan fill="#888">–</tspan>Down</text>
<line x1="1867.5" y1="1333.3" x2="2004.5" y2="1333.3" stroke="#0280c4" stroke-width="8.8" />
<text x="2018" y="1352.7" font-family='"Liberation Sans", sans-serif' font-size="56" text-anchor="start" fill="#000" >d</text>
<line x1="2064" y1="1333.3" x2="2202.5" y2="1333.3" stroke="#005e03" stroke-width="8.8" />
<text x="2216" y="1352.7" font-family='"Liberation Sans", sans-serif' font-size="56" text-anchor="start" fill="#000" >p</text>
<line x1="2262" y1="1333.3" x2="2399.5" y2="1333.3" stroke="#ff952d" stroke-width="8.8" />
<text x="2412.5" y="1352.7" font-family='"Liberation Sans", sans-serif' font-size="56" text-anchor="start" fill="#000" >s</text>
<line x1="2262" y1="1586.6" x2="2400.5" y2="1586.6" stroke="#ff952d" stroke-width="8.8" />
<text x="2412.5" y="1607" font-family='"Liberation Sans", sans-serif' font-size="56" text-anchor="start" fill="#000" >s</text>
<line x1="2068" y1="1844.7" x2="2205.5" y2="1844.7" stroke="#005e03" stroke-width="8.8" />
<text x="2218.5" y="1862" font-family='"Liberation Sans", sans-serif' font-size="56" text-anchor="start" fill="#000" >p</text>
<line x1="2265" y1="1844.7" x2="2403.5" y2="1844.7" stroke="#ff952d" stroke-width="8.8" />
<text x="2415.5" y="1862" font-family='"Liberation Sans", sans-serif' font-size="56" text-anchor="start" fill="#000" >s</text>
<line x1="2068" y1="2096.3" x2="2205" y2="2096.3" stroke="#005e03" stroke-width="8.8" />
<text x="2218.5" y="2113" font-family='"Liberation Sans", sans-serif' font-size="56" text-anchor="start" fill="#000" >p</text>
<line x1="2264.5" y1="2096.3" x2="2402" y2="2096.3" stroke="#ff952d" stroke-width="8.8" />
<text x="2414.5" y="2113" font-family='"Liberation Sans", sans-serif' font-size="56" text-anchor="start" fill="#000" >s</text>
<text x="1480.5" y="1363.3" font-family='"Liberation Sans", sans-serif' font-size="57" text-anchor="start" fill="#000" >Mn</text>
<text x="1490" y="1617" font-family='"Liberation Sans", sans-serif' font-size="57" text-anchor="start" fill="#000" >H</text>
<text x="1490" y="1863.3" font-family='"Liberation Sans", sans-serif' font-size="57" text-anchor="start" fill="#000" >C</text>
<text x="1486" y="2125.9" font-family='"Liberation Sans", sans-serif' font-size="57" text-anchor="start" fill="#000" >Br</text>
<text transform="translate(2015 1681) rotate(-90)" font-family='"Liberation Sans", sans-serif' font-size="67" text-anchor="middle" fill="#000" >2.80 eV</text>
<text transform="translate(2018 1834) rotate(-90)" font-family='"Liberation Sans", sans-serif' font-size="58" text-anchor="middle" fill="#000">~</text>
<line x1="1866.4" y1="1051.8" x2="1866.4" y2="2310.4" stroke="#000" stroke-width="6.5" stroke-dasharray="14.5 11.3" stroke-dashoffset="-5.2"/>
<line x1="2122" y1="1051.8" x2="2122" y2="2310.4" stroke="#000" stroke-width="6.5" stroke-dasharray="14.5 11.3" stroke-dashoffset="-5.2"/>
<rect x="1469.2" y="1047.8" width="988.3999999999999" height="1266.6000000000001" fill="none" stroke="#000" stroke-width="9"/>
<line x1="1469.2" y1="1300.6" x2="2457.6" y2="1300.6" stroke="#000" stroke-width="9.2" />
<line x1="1469.2" y1="1554" x2="2457.6" y2="1554" stroke="#000" stroke-width="9.2" />
<line x1="1469.2" y1="1808" x2="2457.6" y2="1808" stroke="#000" stroke-width="9.2" />
<line x1="1469.2" y1="2061.2" x2="2457.6" y2="2061.2" stroke="#000" stroke-width="9.2" />
<line x1="1450" y1="1080" x2="1469.2" y2="1080" stroke="#000" stroke-width="8" />
<text x="1442.5" y="1092" font-family='"Liberation Sans", sans-serif' font-size="56" text-anchor="end" fill="#000" >150</text>
<line x1="1450" y1="1173.6" x2="1469.2" y2="1173.6" stroke="#000" stroke-width="8" />
<text x="1442.5" y="1185.6" font-family='"Liberation Sans", sans-serif' font-size="56" text-anchor="end" fill="#000" >0</text>
<line x1="1450" y1="1268.8" x2="1469.2" y2="1268.8" stroke="#000" stroke-width="8" />
<text x="1442.5" y="1280.8" font-family='"Liberation Sans", sans-serif' font-size="56" text-anchor="end" fill="#000" >-150</text>
<line x1="1457" y1="1126.8" x2="1469.2" y2="1126.8" stroke="#000" stroke-width="8" />
<line x1="1457" y1="1221.2" x2="1469.2" y2="1221.2" stroke="#000" stroke-width="8" />
<line x1="1450" y1="1313.2" x2="1469.2" y2="1313.2" stroke="#000" stroke-width="8" />
<text x="1442.5" y="1333.7" font-family='"Liberation Sans", sans-serif' font-size="56" text-anchor="end" fill="#000" >154</text>
<line x1="1450" y1="1377.5" x2="1469.2" y2="1377.5" stroke="#000" stroke-width="8" />
<text x="1442.5" y="1398" font-family='"Liberation Sans", sans-serif' font-size="56" text-anchor="end" fill="#000" >77</text>
<line x1="1450" y1="1441.4" x2="1469.2" y2="1441.4" stroke="#000" stroke-width="8" />
<text x="1442.5" y="1461.9" font-family='"Liberation Sans", sans-serif' font-size="56" text-anchor="end" fill="#000" >0</text>
<line x1="1450" y1="1505" x2="1469.2" y2="1505" stroke="#000" stroke-width="8" />
<text x="1442.5" y="1525.5" font-family='"Liberation Sans", sans-serif' font-size="56" text-anchor="end" fill="#000" >-77</text>
<line x1="1457" y1="1345.3" x2="1469.2" y2="1345.3" stroke="#000" stroke-width="8" />
<line x1="1457" y1="1409.5" x2="1469.2" y2="1409.5" stroke="#000" stroke-width="8" />
<line x1="1457" y1="1473.2" x2="1469.2" y2="1473.2" stroke="#000" stroke-width="8" />
<line x1="1457" y1="1537" x2="1469.2" y2="1537" stroke="#000" stroke-width="8" />
<line x1="1450" y1="1572" x2="1469.2" y2="1572" stroke="#000" stroke-width="8" />
<text x="1442.5" y="1592.7" font-family='"Liberation Sans", sans-serif' font-size="56" text-anchor="end" fill="#000" >48</text>
<line x1="1450" y1="1634.9" x2="1469.2" y2="1634.9" stroke="#000" stroke-width="8" />
<text x="1442.5" y="1655.6" font-family='"Liberation Sans", sans-serif' font-size="56" text-anchor="end" fill="#000" >24</text>
<line x1="1450" y1="1697.8" x2="1469.2" y2="1697.8" stroke="#000" stroke-width="8" />
<text x="1442.5" y="1718.5" font-family='"Liberation Sans", sans-serif' font-size="56" text-anchor="end" fill="#000" >0</text>
<line x1="1450" y1="1760.8" x2="1469.2" y2="1760.8" stroke="#000" stroke-width="8" />
<text x="1442.5" y="1781.5" font-family='"Liberation Sans", sans-serif' font-size="56" text-anchor="end" fill="#000" >-24</text>
<line x1="1457" y1="1603.5" x2="1469.2" y2="1603.5" stroke="#000" stroke-width="8" />
<line x1="1457" y1="1666.3" x2="1469.2" y2="1666.3" stroke="#000" stroke-width="8" />
<line x1="1457" y1="1729.3" x2="1469.2" y2="1729.3" stroke="#000" stroke-width="8" />
<line x1="1457" y1="1792" x2="1469.2" y2="1792" stroke="#000" stroke-width="8" />
<line x1="1450" y1="1822" x2="1469.2" y2="1822" stroke="#000" stroke-width="8" />
<text x="1442.5" y="1846" font-family='"Liberation Sans", sans-serif' font-size="56" text-anchor="end" fill="#000" >70</text>
<line x1="1450" y1="1885.9" x2="1469.2" y2="1885.9" stroke="#000" stroke-width="8" />
<text x="1442.5" y="1909.9" font-family='"Liberation Sans", sans-serif' font-size="56" text-anchor="end" fill="#000" >35</text>
<line x1="1450" y1="1950" x2="1469.2" y2="1950" stroke="#000" stroke-width="8" />
<text x="1442.5" y="1974" font-family='"Liberation Sans", sans-serif' font-size="56" text-anchor="end" fill="#000" >0</text>
<line x1="1450" y1="2014" x2="1469.2" y2="2014" stroke="#000" stroke-width="8" />
<text x="1442.5" y="2038" font-family='"Liberation Sans", sans-serif' font-size="56" text-anchor="end" fill="#000" >-35</text>
<line x1="1457" y1="1854" x2="1469.2" y2="1854" stroke="#000" stroke-width="8" />
<line x1="1457" y1="1918" x2="1469.2" y2="1918" stroke="#000" stroke-width="8" />
<line x1="1457" y1="1982" x2="1469.2" y2="1982" stroke="#000" stroke-width="8" />
<line x1="1457" y1="2046" x2="1469.2" y2="2046" stroke="#000" stroke-width="8" />
<line x1="1450" y1="2109.7" x2="1469.2" y2="2109.7" stroke="#000" stroke-width="8" />
<text x="1442.5" y="2125.7" font-family='"Liberation Sans", sans-serif' font-size="56" text-anchor="end" fill="#000" >36</text>
<line x1="1450" y1="2173" x2="1469.2" y2="2173" stroke="#000" stroke-width="8" />
<text x="1442.5" y="2189" font-family='"Liberation Sans", sans-serif' font-size="56" text-anchor="end" fill="#000" >0</text>
<line x1="1450" y1="2236.6" x2="1469.2" y2="2236.6" stroke="#000" stroke-width="8" />
<text x="1442.5" y="2252.6" font-family='"Liberation Sans", sans-serif' font-size="56" text-anchor="end" fill="#000" >-36</text>
<line x1="1450" y1="2300.1" x2="1469.2" y2="2300.1" stroke="#000" stroke-width="8" />
<text x="1442.5" y="2316.1" font-family='"Liberation Sans", sans-serif' font-size="56" text-anchor="end" fill="#000" >-72</text>
<line x1="1457" y1="2078" x2="1469.2" y2="2078" stroke="#000" stroke-width="8" />
<line x1="1457" y1="2141.4" x2="1469.2" y2="2141.4" stroke="#000" stroke-width="8" />
<line x1="1457" y1="2204.8" x2="1469.2" y2="2204.8" stroke="#000" stroke-width="8" />
<line x1="1457" y1="2268.4" x2="1469.2" y2="2268.4" stroke="#000" stroke-width="8" />
<line x1="1469.1" y1="2314.4" x2="1469.1" y2="2333.4" stroke="#000" stroke-width="8.5" />
<text x="1468.1" y="2384" font-family='"Liberation Sans", sans-serif' font-size="56" text-anchor="middle" fill="#000" >-4</text>
<line x1="1666.7" y1="2314.4" x2="1666.7" y2="2333.4" stroke="#000" stroke-width="8.5" />
<text x="1665.7" y="2384" font-family='"Liberation Sans", sans-serif' font-size="56" text-anchor="middle" fill="#000" >-2</text>
<line x1="1864.3" y1="2314.4" x2="1864.3" y2="2333.4" stroke="#000" stroke-width="8.5" />
<text x="1864.3" y="2384" font-family='"Liberation Sans", sans-serif' font-size="56" text-anchor="middle" fill="#000" >0</text>
<line x1="2061.9" y1="2314.4" x2="2061.9" y2="2333.4" stroke="#000" stroke-width="8.5" />
<text x="2061.9" y="2384" font-family='"Liberation Sans", sans-serif' font-size="56" text-anchor="middle" fill="#000" >2</text>
<line x1="2259.5" y1="2314.4" x2="2259.5" y2="2333.4" stroke="#000" stroke-width="8.5" />
<text x="2259.5" y="2384" font-family='"Liberation Sans", sans-serif' font-size="56" text-anchor="middle" fill="#000" >4</text>
<line x1="2457.1" y1="2314.4" x2="2457.1" y2="2333.4" stroke="#000" stroke-width="8.5" />
<text x="2457.1" y="2384" font-family='"Liberation Sans", sans-serif' font-size="56" text-anchor="middle" fill="#000" >6</text>
<line x1="1567.9" y1="2314.4" x2="1567.9" y2="2326.9" stroke="#000" stroke-width="8" />
<line x1="1765.5" y1="2314.4" x2="1765.5" y2="2326.9" stroke="#000" stroke-width="8" />
<line x1="1963.1" y1="2314.4" x2="1963.1" y2="2326.9" stroke="#000" stroke-width="8" />
<line x1="2160.7" y1="2314.4" x2="2160.7" y2="2326.9" stroke="#000" stroke-width="8" />
<line x1="2358.3" y1="2314.4" x2="2358.3" y2="2326.9" stroke="#000" stroke-width="8" />
<text x="1963.4" y="2448" font-family='"Liberation Sans", sans-serif' font-size="67.5" text-anchor="middle" fill="#000" >Energy (eV)</text>
<text transform="translate(1327 1670) rotate(-90)" font-family='"Liberation Sans", sans-serif' font-size="59" text-anchor="middle" fill="#000" >DOS (States/eV)</text>
<text x="1248.5" y="1110" font-family='"Liberation Sans", sans-serif' font-size="84" text-anchor="start" fill="#000" >(d)</text>
</svg>
</body></html>
